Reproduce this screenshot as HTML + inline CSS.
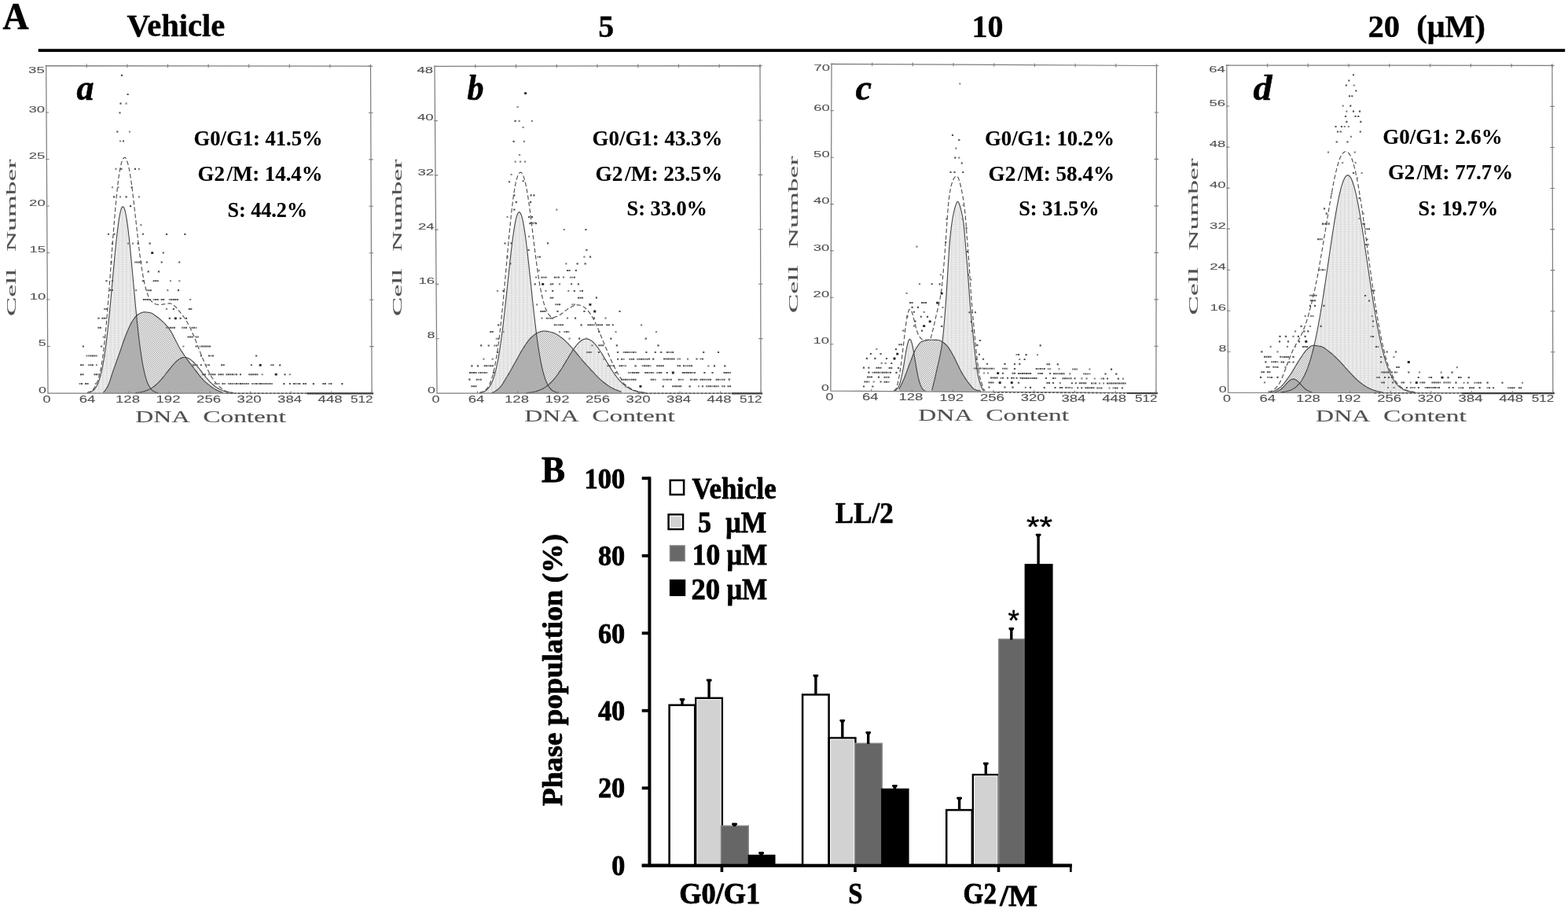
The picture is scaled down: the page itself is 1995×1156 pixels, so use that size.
<!DOCTYPE html>
<html lang="en"><head><meta charset="utf-8"><title>Cell cycle analysis</title>
<style>
html,body{margin:0;padding:0;background:#fff}
body{width:1995px;height:1156px;overflow:hidden}
svg{display:block}
text{font-family:'Liberation Serif','DejaVu Serif',serif;font-weight:bold}
text.sa{font-family:'Liberation Sans','DejaVu Sans',sans-serif;font-weight:normal}
text.n{font-weight:normal}
</style></head><body>
<svg width="1995" height="1156" viewBox="0 0 1995 1156">
<defs>
<pattern id="stip" width="5" height="3" patternUnits="userSpaceOnUse">
<rect width="5" height="3" fill="#ececec"/><rect width="1.6" height="3" fill="#dedede"/><rect width="5" height="1" fill="#e0e0e0" opacity=".6"/>
</pattern>
<pattern id="hat" width="2.6" height="2.6" patternUnits="userSpaceOnUse">
<rect width="2.6" height="2.6" fill="#fff"/>
<path d="M-0.65 0.65L0.65 -0.65M0 2.6L2.6 0M1.95 3.25L3.25 1.95" stroke="#6a6a6a" stroke-width="0.8"/>
</pattern>
<pattern id="xhat" width="1.9" height="1.9" patternUnits="userSpaceOnUse">
<rect width="1.9" height="1.9" fill="#f2f2f2"/>
<rect width="0.95" height="0.95" fill="#6c6c6c"/><rect x="0.95" y="0.95" width="0.95" height="0.95" fill="#6c6c6c"/>
</pattern>
</defs>
<rect width="1995" height="1156" fill="#fff"/>
<text x="3.6" y="37.3" font-size="47.5" textLength="33" lengthAdjust="spacingAndGlyphs" stroke="#000" stroke-width="0.7" stroke-linejoin="round">A</text>
<text x="161.6" y="46.3" font-size="40.5" textLength="124.6" lengthAdjust="spacingAndGlyphs" stroke="#000" stroke-width="0.4" stroke-linejoin="round">Vehicle</text>
<text x="761.2" y="46.8" font-size="40.5" textLength="20" lengthAdjust="spacingAndGlyphs" stroke="#000" stroke-width="0.4" stroke-linejoin="round">5</text>
<text x="1236.6" y="46.8" font-size="40.5" textLength="40" lengthAdjust="spacingAndGlyphs" stroke="#000" stroke-width="0.4" stroke-linejoin="round">10</text>
<text x="1740.6" y="46.8" font-size="40.5" stroke="#000" stroke-width="0.4" stroke-linejoin="round"><tspan x="1740.6" textLength="40.5" lengthAdjust="spacingAndGlyphs">20</tspan> <tspan x="1802.3" textLength="87.5" lengthAdjust="spacingAndGlyphs">(μM)</tspan></text>
<rect x="48.7" y="62.2" width="1942.5" height="3.8" fill="#000"/>
<g>
<clipPath id="csa"><path d="M131.2 499.2L132.2 498.3L133.2 497.2L134.2 495.9L135.2 494.4L136.2 492.7L137.2 491L138.2 488.8L139.2 486.2L140.2 483.3L141.2 480.2L142.2 477L143.2 473.9L144.2 471L145.2 468.1L146.2 465.4L147.2 462.6L148.2 459.8L149.2 457L150.2 454.2L151.2 451.4L152.2 448.6L153.2 445.7L154.2 442.8L155.2 439.9L156.2 436.9L157.2 434L158.2 431.2L159.2 428.5L160.2 426L161.2 423.5L162.2 421.1L163.2 418.7L164.2 416.4L165.2 414.2L166.2 412.2L167.2 410.4L168.2 408.8L169.2 407.3L170.2 405.8L171.2 404.4L172.2 403.1L173.2 402L174.2 401L175.2 400.3L176.2 399.6L177.2 399.1L178.2 398.5L179.2 398L180.2 397.6L181.2 397.2L182.2 397L183.2 396.9L184.2 396.9L185.2 397L186.2 397L187.2 397.1L188.2 397.2L189.2 397.4L190.2 397.5L191.2 397.7L192.2 398L193.2 398.4L194.2 398.9L195.2 399.6L196.2 400.3L197.2 401.1L198.2 401.8L199.2 402.5L200.2 403.3L201.2 404L202.2 404.8L203.2 405.6L204.2 406.5L205.2 407.4L206.2 408.3L207.2 409.2L208.2 410.2L209.2 411.2L210.2 412.2L211.2 413.3L212.2 414.4L213.2 415.6L214.2 416.8L215.2 418.1L216.2 419.5L217.2 421.1L218.2 422.8L219.2 424.6L220.2 426.5L221.2 428.4L222.2 430.4L223.2 432.4L224.2 434.4L225.2 436.3L226.2 438.3L227.2 440.2L228.2 442L229.2 443.7L230.2 445.4L231.2 446.9L232.2 448.4L233.2 449.9L234.2 451.4L235.2 452.8L236.2 454.3L237.2 455.7L238.2 457.1L239.2 458.4L240.2 459.8L241.2 461.1L242.2 462.4L243.2 463.7L244.2 465.1L245.2 466.4L246.2 467.6L247.2 469L248.2 470.3L249.2 471.6L250.2 472.9L251.2 474.2L252.2 475.5L253.2 476.8L254.2 478.1L255.2 479.3L256.2 480.5L257.2 481.6L258.2 482.7L259.2 483.8L260.2 484.8L261.2 485.7L262.2 486.6L263.2 487.4L264.2 488.3L265.2 489.1L266.2 489.8L267.2 490.6L268.2 491.3L269.2 492.1L270.2 492.7L271.2 493.4L272.2 494L273.2 494.6L274.2 495.2L275.2 495.8L276.2 496.3L277.2 496.8L278.2 497.3L279.2 497.7L280.2 498.1L281.2 498.5L282.2 498.9L283.2 499.3L284.2 499.6L284.2 500.3 L131.2 500.3Z"/></clipPath>
<path d="M111.2 499.7L112.2 499.5L113.2 499.2L114.2 498.9L115.2 498.6L116.2 498.1L117.2 497.5L118.2 496.8L119.2 496L120.2 495L121.2 493.7L122.2 492.3L123.2 490.5L124.2 488.5L125.2 486.1L126.2 483.3L127.2 480.1L128.2 476.5L129.2 472.3L130.2 467.7L131.2 462.4L132.2 456.6L133.2 450.1L134.2 443L135.2 435.4L136.2 427.1L137.2 418.2L138.2 408.8L139.2 398.9L140.2 388.7L141.2 378L142.2 367.2L143.2 356.2L144.2 345.2L145.2 334.4L146.2 323.8L147.2 313.6L148.2 304L149.2 295.2L150.2 287.1L151.2 280L152.2 274.1L153.2 269.3L154.2 265.7L155.2 263.5L156.2 262.7L157.2 263.3L158.2 265.2L159.2 268.5L160.2 273L161.2 278.8L162.2 285.6L163.2 293.5L164.2 302.2L165.2 311.7L166.2 321.7L167.2 332.2L168.2 343L169.2 354L170.2 365L171.2 375.9L172.2 386.5L173.2 396.9L174.2 406.9L175.2 416.4L176.2 425.4L177.2 433.8L178.2 441.6L179.2 448.7L180.2 455.3L181.2 461.3L182.2 466.6L183.2 471.4L184.2 475.7L185.2 479.5L186.2 482.7L187.2 485.6L188.2 488L189.2 490.2L190.2 491.9L191.2 493.5L192.2 494.7L193.2 495.8L194.2 496.7L195.2 497.4L196.2 498L197.2 498.5L198.2 498.9L199.2 499.2L200.2 499.4L201.2 499.6L201.2 500.3 L111.2 500.3Z" fill="url(#stip)"/>
<path d="M172.2 499.6L173.2 499.5L174.2 499.4L175.2 499.3L176.2 499.2L177.2 499L178.2 498.9L179.2 498.7L180.2 498.5L181.2 498.3L182.2 498L183.2 497.7L184.2 497.4L185.2 497.1L186.2 496.7L187.2 496.4L188.2 495.9L189.2 495.5L190.2 495L191.2 494.4L192.2 493.9L193.2 493.3L194.2 492.6L195.2 491.9L196.2 491.2L197.2 490.4L198.2 489.5L199.2 488.7L200.2 487.8L201.2 486.8L202.2 485.8L203.2 484.7L204.2 483.7L205.2 482.5L206.2 481.4L207.2 480.2L208.2 479L209.2 477.8L210.2 476.5L211.2 475.2L212.2 473.9L213.2 472.7L214.2 471.4L215.2 470.1L216.2 468.8L217.2 467.5L218.2 466.3L219.2 465.1L220.2 463.9L221.2 462.8L222.2 461.7L223.2 460.7L224.2 459.7L225.2 458.8L226.2 458L227.2 457.3L228.2 456.6L229.2 456L230.2 455.5L231.2 455.1L232.2 454.8L233.2 454.6L234.2 454.5L235.2 454.5L236.2 454.6L237.2 454.8L238.2 455.1L239.2 455.4L240.2 455.9L241.2 456.5L242.2 457.1L243.2 457.9L244.2 458.7L245.2 459.6L246.2 460.5L247.2 461.5L248.2 462.6L249.2 463.7L250.2 464.9L251.2 466.1L252.2 467.3L253.2 468.5L254.2 469.8L255.2 471.1L256.2 472.4L257.2 473.7L258.2 475L259.2 476.2L260.2 477.5L261.2 478.7L262.2 480L263.2 481.2L264.2 482.3L265.2 483.4L266.2 484.5L267.2 485.6L268.2 486.6L269.2 487.6L270.2 488.5L271.2 489.4L272.2 490.2L273.2 491L274.2 491.8L275.2 492.5L276.2 493.1L277.2 493.7L278.2 494.3L279.2 494.9L280.2 495.4L281.2 495.8L282.2 496.3L283.2 496.7L284.2 497L285.2 497.4L286.2 497.7L287.2 498L288.2 498.2L289.2 498.4L290.2 498.6L291.2 498.8L292.2 499L293.2 499.2L294.2 499.3L295.2 499.4L296.2 499.5L297.2 499.6L297.2 500.3 L172.2 500.3Z" fill="url(#stip)"/>
<path d="M131.2 499.2L132.2 498.3L133.2 497.2L134.2 495.9L135.2 494.4L136.2 492.7L137.2 491L138.2 488.8L139.2 486.2L140.2 483.3L141.2 480.2L142.2 477L143.2 473.9L144.2 471L145.2 468.1L146.2 465.4L147.2 462.6L148.2 459.8L149.2 457L150.2 454.2L151.2 451.4L152.2 448.6L153.2 445.7L154.2 442.8L155.2 439.9L156.2 436.9L157.2 434L158.2 431.2L159.2 428.5L160.2 426L161.2 423.5L162.2 421.1L163.2 418.7L164.2 416.4L165.2 414.2L166.2 412.2L167.2 410.4L168.2 408.8L169.2 407.3L170.2 405.8L171.2 404.4L172.2 403.1L173.2 402L174.2 401L175.2 400.3L176.2 399.6L177.2 399.1L178.2 398.5L179.2 398L180.2 397.6L181.2 397.2L182.2 397L183.2 396.9L184.2 396.9L185.2 397L186.2 397L187.2 397.1L188.2 397.2L189.2 397.4L190.2 397.5L191.2 397.7L192.2 398L193.2 398.4L194.2 398.9L195.2 399.6L196.2 400.3L197.2 401.1L198.2 401.8L199.2 402.5L200.2 403.3L201.2 404L202.2 404.8L203.2 405.6L204.2 406.5L205.2 407.4L206.2 408.3L207.2 409.2L208.2 410.2L209.2 411.2L210.2 412.2L211.2 413.3L212.2 414.4L213.2 415.6L214.2 416.8L215.2 418.1L216.2 419.5L217.2 421.1L218.2 422.8L219.2 424.6L220.2 426.5L221.2 428.4L222.2 430.4L223.2 432.4L224.2 434.4L225.2 436.3L226.2 438.3L227.2 440.2L228.2 442L229.2 443.7L230.2 445.4L231.2 446.9L232.2 448.4L233.2 449.9L234.2 451.4L235.2 452.8L236.2 454.3L237.2 455.7L238.2 457.1L239.2 458.4L240.2 459.8L241.2 461.1L242.2 462.4L243.2 463.7L244.2 465.1L245.2 466.4L246.2 467.6L247.2 469L248.2 470.3L249.2 471.6L250.2 472.9L251.2 474.2L252.2 475.5L253.2 476.8L254.2 478.1L255.2 479.3L256.2 480.5L257.2 481.6L258.2 482.7L259.2 483.8L260.2 484.8L261.2 485.7L262.2 486.6L263.2 487.4L264.2 488.3L265.2 489.1L266.2 489.8L267.2 490.6L268.2 491.3L269.2 492.1L270.2 492.7L271.2 493.4L272.2 494L273.2 494.6L274.2 495.2L275.2 495.8L276.2 496.3L277.2 496.8L278.2 497.3L279.2 497.7L280.2 498.1L281.2 498.5L282.2 498.9L283.2 499.3L284.2 499.6L284.2 500.3 L131.2 500.3Z" fill="url(#hat)"/>
<g clip-path="url(#csa)"><path d="M111.2 499.7L112.2 499.5L113.2 499.2L114.2 498.9L115.2 498.6L116.2 498.1L117.2 497.5L118.2 496.8L119.2 496L120.2 495L121.2 493.7L122.2 492.3L123.2 490.5L124.2 488.5L125.2 486.1L126.2 483.3L127.2 480.1L128.2 476.5L129.2 472.3L130.2 467.7L131.2 462.4L132.2 456.6L133.2 450.1L134.2 443L135.2 435.4L136.2 427.1L137.2 418.2L138.2 408.8L139.2 398.9L140.2 388.7L141.2 378L142.2 367.2L143.2 356.2L144.2 345.2L145.2 334.4L146.2 323.8L147.2 313.6L148.2 304L149.2 295.2L150.2 287.1L151.2 280L152.2 274.1L153.2 269.3L154.2 265.7L155.2 263.5L156.2 262.7L157.2 263.3L158.2 265.2L159.2 268.5L160.2 273L161.2 278.8L162.2 285.6L163.2 293.5L164.2 302.2L165.2 311.7L166.2 321.7L167.2 332.2L168.2 343L169.2 354L170.2 365L171.2 375.9L172.2 386.5L173.2 396.9L174.2 406.9L175.2 416.4L176.2 425.4L177.2 433.8L178.2 441.6L179.2 448.7L180.2 455.3L181.2 461.3L182.2 466.6L183.2 471.4L184.2 475.7L185.2 479.5L186.2 482.7L187.2 485.6L188.2 488L189.2 490.2L190.2 491.9L191.2 493.5L192.2 494.7L193.2 495.8L194.2 496.7L195.2 497.4L196.2 498L197.2 498.5L198.2 498.9L199.2 499.2L200.2 499.4L201.2 499.6L201.2 500.3 L111.2 500.3Z" fill="url(#xhat)"/><path d="M172.2 499.6L173.2 499.5L174.2 499.4L175.2 499.3L176.2 499.2L177.2 499L178.2 498.9L179.2 498.7L180.2 498.5L181.2 498.3L182.2 498L183.2 497.7L184.2 497.4L185.2 497.1L186.2 496.7L187.2 496.4L188.2 495.9L189.2 495.5L190.2 495L191.2 494.4L192.2 493.9L193.2 493.3L194.2 492.6L195.2 491.9L196.2 491.2L197.2 490.4L198.2 489.5L199.2 488.7L200.2 487.8L201.2 486.8L202.2 485.8L203.2 484.7L204.2 483.7L205.2 482.5L206.2 481.4L207.2 480.2L208.2 479L209.2 477.8L210.2 476.5L211.2 475.2L212.2 473.9L213.2 472.7L214.2 471.4L215.2 470.1L216.2 468.8L217.2 467.5L218.2 466.3L219.2 465.1L220.2 463.9L221.2 462.8L222.2 461.7L223.2 460.7L224.2 459.7L225.2 458.8L226.2 458L227.2 457.3L228.2 456.6L229.2 456L230.2 455.5L231.2 455.1L232.2 454.8L233.2 454.6L234.2 454.5L235.2 454.5L236.2 454.6L237.2 454.8L238.2 455.1L239.2 455.4L240.2 455.9L241.2 456.5L242.2 457.1L243.2 457.9L244.2 458.7L245.2 459.6L246.2 460.5L247.2 461.5L248.2 462.6L249.2 463.7L250.2 464.9L251.2 466.1L252.2 467.3L253.2 468.5L254.2 469.8L255.2 471.1L256.2 472.4L257.2 473.7L258.2 475L259.2 476.2L260.2 477.5L261.2 478.7L262.2 480L263.2 481.2L264.2 482.3L265.2 483.4L266.2 484.5L267.2 485.6L268.2 486.6L269.2 487.6L270.2 488.5L271.2 489.4L272.2 490.2L273.2 491L274.2 491.8L275.2 492.5L276.2 493.1L277.2 493.7L278.2 494.3L279.2 494.9L280.2 495.4L281.2 495.8L282.2 496.3L283.2 496.7L284.2 497L285.2 497.4L286.2 497.7L287.2 498L288.2 498.2L289.2 498.4L290.2 498.6L291.2 498.8L292.2 499L293.2 499.2L294.2 499.3L295.2 499.4L296.2 499.5L297.2 499.6L297.2 500.3 L172.2 500.3Z" fill="url(#xhat)"/></g>
<path d="M111.2 499.7L112.2 499.5L113.2 499.2L114.2 498.9L115.2 498.6L116.2 498.1L117.2 497.5L118.2 496.8L119.2 496L120.2 495L121.2 493.7L122.2 492.3L123.2 490.5L124.2 488.5L125.2 486.1L126.2 483.3L127.2 480.1L128.2 476.5L129.2 472.3L130.2 467.7L131.2 462.4L132.2 456.6L133.2 450.1L134.2 443L135.2 435.4L136.2 427.1L137.2 418.2L138.2 408.8L139.2 398.9L140.2 388.7L141.2 378L142.2 367.2L143.2 356.2L144.2 345.2L145.2 334.4L146.2 323.8L147.2 313.6L148.2 304L149.2 295.2L150.2 287.1L151.2 280L152.2 274.1L153.2 269.3L154.2 265.7L155.2 263.5L156.2 262.7L157.2 263.3L158.2 265.2L159.2 268.5L160.2 273L161.2 278.8L162.2 285.6L163.2 293.5L164.2 302.2L165.2 311.7L166.2 321.7L167.2 332.2L168.2 343L169.2 354L170.2 365L171.2 375.9L172.2 386.5L173.2 396.9L174.2 406.9L175.2 416.4L176.2 425.4L177.2 433.8L178.2 441.6L179.2 448.7L180.2 455.3L181.2 461.3L182.2 466.6L183.2 471.4L184.2 475.7L185.2 479.5L186.2 482.7L187.2 485.6L188.2 488L189.2 490.2L190.2 491.9L191.2 493.5L192.2 494.7L193.2 495.8L194.2 496.7L195.2 497.4L196.2 498L197.2 498.5L198.2 498.9L199.2 499.2L200.2 499.4L201.2 499.6" fill="none" stroke="#444" stroke-width="1.1"/>
<path d="M172.2 499.6L173.2 499.5L174.2 499.4L175.2 499.3L176.2 499.2L177.2 499L178.2 498.9L179.2 498.7L180.2 498.5L181.2 498.3L182.2 498L183.2 497.7L184.2 497.4L185.2 497.1L186.2 496.7L187.2 496.4L188.2 495.9L189.2 495.5L190.2 495L191.2 494.4L192.2 493.9L193.2 493.3L194.2 492.6L195.2 491.9L196.2 491.2L197.2 490.4L198.2 489.5L199.2 488.7L200.2 487.8L201.2 486.8L202.2 485.8L203.2 484.7L204.2 483.7L205.2 482.5L206.2 481.4L207.2 480.2L208.2 479L209.2 477.8L210.2 476.5L211.2 475.2L212.2 473.9L213.2 472.7L214.2 471.4L215.2 470.1L216.2 468.8L217.2 467.5L218.2 466.3L219.2 465.1L220.2 463.9L221.2 462.8L222.2 461.7L223.2 460.7L224.2 459.7L225.2 458.8L226.2 458L227.2 457.3L228.2 456.6L229.2 456L230.2 455.5L231.2 455.1L232.2 454.8L233.2 454.6L234.2 454.5L235.2 454.5L236.2 454.6L237.2 454.8L238.2 455.1L239.2 455.4L240.2 455.9L241.2 456.5L242.2 457.1L243.2 457.9L244.2 458.7L245.2 459.6L246.2 460.5L247.2 461.5L248.2 462.6L249.2 463.7L250.2 464.9L251.2 466.1L252.2 467.3L253.2 468.5L254.2 469.8L255.2 471.1L256.2 472.4L257.2 473.7L258.2 475L259.2 476.2L260.2 477.5L261.2 478.7L262.2 480L263.2 481.2L264.2 482.3L265.2 483.4L266.2 484.5L267.2 485.6L268.2 486.6L269.2 487.6L270.2 488.5L271.2 489.4L272.2 490.2L273.2 491L274.2 491.8L275.2 492.5L276.2 493.1L277.2 493.7L278.2 494.3L279.2 494.9L280.2 495.4L281.2 495.8L282.2 496.3L283.2 496.7L284.2 497L285.2 497.4L286.2 497.7L287.2 498L288.2 498.2L289.2 498.4L290.2 498.6L291.2 498.8L292.2 499L293.2 499.2L294.2 499.3L295.2 499.4L296.2 499.5L297.2 499.6" fill="none" stroke="#444" stroke-width="1.1"/>
<path d="M131.2 499.2L132.2 498.3L133.2 497.2L134.2 495.9L135.2 494.4L136.2 492.7L137.2 491L138.2 488.8L139.2 486.2L140.2 483.3L141.2 480.2L142.2 477L143.2 473.9L144.2 471L145.2 468.1L146.2 465.4L147.2 462.6L148.2 459.8L149.2 457L150.2 454.2L151.2 451.4L152.2 448.6L153.2 445.7L154.2 442.8L155.2 439.9L156.2 436.9L157.2 434L158.2 431.2L159.2 428.5L160.2 426L161.2 423.5L162.2 421.1L163.2 418.7L164.2 416.4L165.2 414.2L166.2 412.2L167.2 410.4L168.2 408.8L169.2 407.3L170.2 405.8L171.2 404.4L172.2 403.1L173.2 402L174.2 401L175.2 400.3L176.2 399.6L177.2 399.1L178.2 398.5L179.2 398L180.2 397.6L181.2 397.2L182.2 397L183.2 396.9L184.2 396.9L185.2 397L186.2 397L187.2 397.1L188.2 397.2L189.2 397.4L190.2 397.5L191.2 397.7L192.2 398L193.2 398.4L194.2 398.9L195.2 399.6L196.2 400.3L197.2 401.1L198.2 401.8L199.2 402.5L200.2 403.3L201.2 404L202.2 404.8L203.2 405.6L204.2 406.5L205.2 407.4L206.2 408.3L207.2 409.2L208.2 410.2L209.2 411.2L210.2 412.2L211.2 413.3L212.2 414.4L213.2 415.6L214.2 416.8L215.2 418.1L216.2 419.5L217.2 421.1L218.2 422.8L219.2 424.6L220.2 426.5L221.2 428.4L222.2 430.4L223.2 432.4L224.2 434.4L225.2 436.3L226.2 438.3L227.2 440.2L228.2 442L229.2 443.7L230.2 445.4L231.2 446.9L232.2 448.4L233.2 449.9L234.2 451.4L235.2 452.8L236.2 454.3L237.2 455.7L238.2 457.1L239.2 458.4L240.2 459.8L241.2 461.1L242.2 462.4L243.2 463.7L244.2 465.1L245.2 466.4L246.2 467.6L247.2 469L248.2 470.3L249.2 471.6L250.2 472.9L251.2 474.2L252.2 475.5L253.2 476.8L254.2 478.1L255.2 479.3L256.2 480.5L257.2 481.6L258.2 482.7L259.2 483.8L260.2 484.8L261.2 485.7L262.2 486.6L263.2 487.4L264.2 488.3L265.2 489.1L266.2 489.8L267.2 490.6L268.2 491.3L269.2 492.1L270.2 492.7L271.2 493.4L272.2 494L273.2 494.6L274.2 495.2L275.2 495.8L276.2 496.3L277.2 496.8L278.2 497.3L279.2 497.7L280.2 498.1L281.2 498.5L282.2 498.9L283.2 499.3L284.2 499.6" fill="none" stroke="#444" stroke-width="1.1"/>
<path d="M110.6 499.5L111.6 499.2L112.6 498.9L113.6 498.6L114.6 498.1L115.6 497.5L116.6 496.8L117.6 496L118.6 495L119.6 493.7L120.6 492.3L121.6 490.5L122.6 488.5L123.6 486.1L124.6 483.3L125.6 480.1L126.6 476.5L127.6 472.3L128.6 467.7L129.6 461.3L130.6 454.6L131.6 447L132.6 438.6L133.6 429.4L134.6 419.5L135.6 408.9L136.6 397.3L137.6 384.8L138.6 371.7L139.6 358.3L140.6 344.6L141.6 330.8L142.6 317.1L143.6 303.8L144.7 290.7L145.7 278L146.7 266L147.8 254.6L148.8 244L149.9 234.4L151 225.8L152.1 218.3L153.3 212.1L154.5 207.2L155.7 203.6L156.9 201.4L158.2 200.3L159.5 200.6L160.7 202.4L161.9 205.5L163.1 209.6L164.3 214.8L165.4 221L166.5 227.9L167.6 235.5L168.6 243.8L169.7 252.6L170.7 261.6L171.7 270.6L172.8 279.7L173.8 288.7L174.8 297.7L175.8 306.5L176.8 315L177.8 323.1L178.8 330.6L179.8 337.6L180.8 344L181.8 349.8L182.8 355.1L183.8 359.9L184.8 364.2L185.8 368L186.8 371.4L187.8 374.3L188.8 376.8L189.8 378.9L190.8 380.6L191.8 382L192.8 383.1L193.8 384L194.8 384.8L195.8 385.5L196.8 386.1L197.8 386.6L198.8 387L199.8 387.2L200.8 387.4L201.8 387.4L202.8 387.4L203.8 387.4L204.8 387.3L205.8 387.2L206.8 387.1L207.8 386.9L208.8 386.7L209.8 386.6L210.8 386.4L211.8 386.2L212.8 386.1L213.8 386L214.8 385.9L215.8 385.8L216.8 385.9L217.8 386.2L218.8 386.6L219.8 387.2L220.8 387.9L221.8 388.7L222.8 389.6L223.8 390.6L224.8 391.7L225.8 392.9L226.8 394.1L227.8 395.3L228.8 396.6L229.8 397.9L230.8 399.1L231.8 400.4L232.8 401.7L233.8 403L234.8 404.5L235.8 406L236.8 407.6L237.8 409.3L238.8 411L239.8 412.9L240.8 414.8L241.8 416.8L242.8 418.8L243.8 421L244.8 423.2L245.8 425.5L246.8 427.8L247.8 430.2L248.8 432.7L249.8 435.3L250.8 437.9L251.8 440.5L252.8 443L253.8 445.5L254.8 448.1L255.8 450.6L256.8 453.1L257.8 455.6L258.8 458L259.8 460.4L260.8 462.7L261.8 465L262.8 467.1L263.8 469.2L264.8 471.3L265.8 473.3L266.8 475.2L267.8 476.9L268.8 478.6L269.8 480.2L270.8 481.7L271.8 483.2L272.8 484.5L273.8 485.9L274.8 487.1L275.8 488.3L276.8 489.4L277.8 490.4L278.8 491.4L279.8 492.3L280.8 493.2L281.8 493.9L282.8 494.6L283.8 495.3L284.8 495.9L285.8 496.4L286.8 497.4L287.8 497.7L288.8 498L289.8 498.2L290.8 498.4L291.8 498.6L292.8 498.8L293.8 499L294.8 499.2L295.8 499.3L296.8 499.4" fill="none" stroke="#505050" stroke-width="1.15" stroke-dasharray="5.5 3"/>
<path d="M161.9 308.6h2.2v2.1h-2.2zM167.9 308.6h2.2v2.1h-2.2zM170.8 332.5h2.1v2h-2.1zM215.9 356.2h2.2v2.1h-2.2zM227.2 356.2h2.2v2.1h-2.2zM172 368.1h2.2v2.1h-2.2zM185.8 368.2h2.1v2h-2.1zM212.2 368.1h2.2v2.1h-2.2zM194.6 380.1h2.1v2h-2.1zM214.8 380.1h2.1v2h-2.1zM241 380h2.2v2.1h-2.2zM131.9 391.9h2.1v2h-2.1zM210.9 391.9h2.2v2.1h-2.2zM134.3 403.8h2.1v2h-2.1zM210.9 415.7h2.1v2h-2.1zM230.9 415.8h2.1v2h-2.1zM248.5 415.8h2.1v2h-2.1zM130.6 427.6h2.2v2.1h-2.2zM251 427.6h2.1v2h-2.1zM232.2 439.5h2.2v2.1h-2.2zM253.5 439.5h2.1v2h-2.1zM109.4 451.4h2.1v2h-2.1zM111.9 451.4h2.1v2h-2.1zM121.9 451.4h2.1v2h-2.1zM131.9 451.4h2.2v2.1h-2.2zM267.4 451.4h2.1v2h-2.1zM111.9 463.3h2.1v2h-2.1zM121.9 463.3h2.1v2h-2.1zM249.8 463.3h2.1v2h-2.1zM262.3 463.3h2.1v2h-2.1zM343.9 463.3h2.1v2h-2.1zM124.4 475.2h2.1v2h-2.1zM126.9 475.2h2.1v2h-2.1zM264.8 475.2h2.1v2h-2.1zM297.4 475.2h2.1v2h-2.1zM332.6 475.2h2.2v2.1h-2.2zM367.7 475.2h2.2v2.1h-2.2zM100.5 487.1h2.1v2h-2.1zM120.7 487.1h2.1v2h-2.1zM272.4 487.1h2.1v2h-2.1zM274.9 487.1h2.1v2h-2.1zM277.4 487.1h2.1v2h-2.1zM284.9 487.1h2.1v2h-2.1zM289.9 487.1h2.1v2h-2.1zM294.9 487.1h2.1v2h-2.1zM297.4 487.1h2.1v2h-2.1zM302.4 487.1h2.1v2h-2.1zM309.9 487.1h2.1v2h-2.1zM314.9 487.1h2.1v2h-2.1zM319.9 487.1h2.1v2h-2.1zM322.4 487.1h2.1v2h-2.1zM327.4 487.1h2.1v2h-2.1zM334.9 487.1h2.1v2h-2.1zM339.9 487.1h2.1v2h-2.1zM344.9 487.1h2.1v2h-2.1zM375.2 487.1h2.1v2h-2.1zM377.8 487.1h2.1v2h-2.1zM417.8 487.1h2.1v2h-2.1zM159.5 130.6h2.2v2.1h-2.2zM163.9 166.5h2.2v2.1h-2.2zM151.9 178.5h2.2v2.1h-2.2zM146.4 213.8h2.2v2.1h-2.2zM175.8 213.8h2.2v2.1h-2.2zM141.9 237.2h2.2v2.1h-2.2zM149.4 237.2h2.2v2.1h-2.2zM151.9 249.3h2.2v2.1h-2.2zM175.8 249.3h2.2v2.1h-2.2zM178.3 285.1h2.2v2.1h-2.2z" fill="#858585"/>
<path d="M136.9 296.7h2.2v2.1h-2.2zM144.4 296.7h2.2v2.1h-2.2zM180.8 296.7h2.2v2.1h-2.2zM210.9 296.8h2.2v2.1h-2.2zM234.2 296.8h2.2v2.1h-2.2zM141.9 308.6h2.2v2.1h-2.2zM174.5 308.6h2.2v2.1h-2.2zM189.6 308.6h2.2v2.1h-2.2zM206.6 320.5h2.2v2.1h-2.2zM140.6 332.4h2.2v2.1h-2.2zM173.3 332.5h2.1v2h-2.1zM175.8 332.5h2.1v2h-2.1zM178.3 332.5h2.1v2h-2.1zM185.8 332.4h2.2v2.1h-2.2zM204.6 332.4h2.2v2.1h-2.2zM227.2 332.5h2.1v2h-2.1zM187.6 344.3h2.2v2.1h-2.2zM200.9 344.3h2.2v2.1h-2.2zM134.4 356.2h2.2v2.1h-2.2zM141.9 356.2h2.2v2.1h-2.2zM180.8 356.2h2.2v2.1h-2.2zM194.6 356.3h2.1v2h-2.1zM197.1 356.3h2.1v2h-2.1zM199.6 356.3h2.1v2h-2.1zM139.4 368.1h2.1v2h-2.1zM141.9 368.1h2.1v2h-2.1zM188.3 368.2h2.1v2h-2.1zM190.8 368.2h2.1v2h-2.1zM225.9 368.1h2.2v2.1h-2.2zM181.9 380.1h2.1v2h-2.1zM184.4 380.1h2.1v2h-2.1zM186.9 380.1h2.1v2h-2.1zM189.4 380.1h2.1v2h-2.1zM197.1 380.1h2.1v2h-2.1zM199.6 380.1h2.1v2h-2.1zM204.6 380.1h2.1v2h-2.1zM207.1 380.1h2.1v2h-2.1zM217.2 380.1h2.1v2h-2.1zM219.8 380.1h2.1v2h-2.1zM222.2 380.1h2.1v2h-2.1zM224.8 380.1h2.1v2h-2.1zM134.4 391.9h2.1v2h-2.1zM219.7 391.9h2.2v2.1h-2.2zM239.8 392h2.1v2h-2.1zM242.2 392h2.1v2h-2.1zM124.4 403.8h2.1v2h-2.1zM129.3 403.8h2.1v2h-2.1zM131.8 403.8h2.1v2h-2.1zM214.7 403.8h2.2v2.1h-2.2zM228.5 403.8h2.2v2.1h-2.2zM235.9 403.8h2.2v2.1h-2.2zM124.4 415.7h2.1v2h-2.1zM126.9 415.7h2.1v2h-2.1zM213.4 415.7h2.1v2h-2.1zM215.9 415.7h2.1v2h-2.1zM218.4 415.7h2.1v2h-2.1zM220.9 415.7h2.1v2h-2.1zM233.4 415.8h2.1v2h-2.1zM235.9 415.8h2.1v2h-2.1zM243.5 415.8h2.1v2h-2.1zM246 415.8h2.1v2h-2.1zM238.5 427.6h2.1v2h-2.1zM241 427.6h2.1v2h-2.1zM243.5 427.6h2.1v2h-2.1zM248.5 427.6h2.1v2h-2.1zM104.8 439.5h2.2v2.1h-2.2zM128.1 439.5h2.1v2h-2.1zM248.5 439.5h2.1v2h-2.1zM256.1 439.5h2.1v2h-2.1zM258.6 439.5h2.1v2h-2.1zM261.1 439.5h2.1v2h-2.1zM263.6 439.5h2.1v2h-2.1zM266.1 439.5h2.1v2h-2.1zM114.4 451.4h2.1v2h-2.1zM116.9 451.4h2.1v2h-2.1zM119.4 451.4h2.1v2h-2.1zM254.8 451.4h2.2v2.1h-2.2zM264.9 451.4h2.1v2h-2.1zM269.9 451.4h2.1v2h-2.1zM325 451.4h2.2v2.1h-2.2zM101.9 463.3h2.1v2h-2.1zM104.4 463.3h2.1v2h-2.1zM114.4 463.3h2.1v2h-2.1zM116.9 463.3h2.1v2h-2.1zM244.8 463.3h2.1v2h-2.1zM247.3 463.3h2.1v2h-2.1zM254.8 463.3h2.1v2h-2.1zM264.8 463.3h2.1v2h-2.1zM281.1 463.3h2.1v2h-2.1zM283.6 463.3h2.1v2h-2.1zM318.8 463.3h2.1v2h-2.1zM346.4 463.3h2.1v2h-2.1zM355.1 463.3h2.2v2.1h-2.2zM101.9 475.2h2.1v2h-2.1zM104.4 475.2h2.1v2h-2.1zM119.4 475.2h2.1v2h-2.1zM121.9 475.2h2.1v2h-2.1zM257.3 475.2h2.1v2h-2.1zM259.8 475.2h2.1v2h-2.1zM267.3 475.2h2.1v2h-2.1zM269.8 475.2h2.1v2h-2.1zM272.3 475.2h2.1v2h-2.1zM277.4 475.2h2.1v2h-2.1zM279.9 475.2h2.1v2h-2.1zM282.4 475.2h2.1v2h-2.1zM287.4 475.2h2.1v2h-2.1zM289.9 475.2h2.1v2h-2.1zM292.4 475.2h2.1v2h-2.1zM294.9 475.2h2.1v2h-2.1zM299.9 475.2h2.1v2h-2.1zM304.9 475.2h2.1v2h-2.1zM316.3 475.2h2.1v2h-2.1zM318.8 475.2h2.1v2h-2.1zM321.3 475.2h2.1v2h-2.1zM323.8 475.2h2.1v2h-2.1zM326.3 475.2h2.1v2h-2.1zM361.4 475.2h2.2v2.1h-2.2zM103 487.1h2.1v2h-2.1zM108 487.1h2.1v2h-2.1zM110.5 487.1h2.1v2h-2.1zM282.4 487.1h2.1v2h-2.1zM292.4 487.1h2.1v2h-2.1zM299.9 487.1h2.1v2h-2.1zM304.9 487.1h2.1v2h-2.1zM307.4 487.1h2.1v2h-2.1zM312.4 487.1h2.1v2h-2.1zM324.9 487.1h2.1v2h-2.1zM329.9 487.1h2.1v2h-2.1zM332.4 487.1h2.1v2h-2.1zM337.4 487.1h2.1v2h-2.1zM342.4 487.1h2.1v2h-2.1zM360.2 487.1h2.2v2.1h-2.2zM367.8 487.1h2.1v2h-2.1zM372.8 487.1h2.1v2h-2.1zM380.2 487.1h2.1v2h-2.1zM385.2 487.1h2.1v2h-2.1zM387.8 487.1h2.1v2h-2.1zM397.8 487.1h2.2v2.1h-2.2zM410.3 487.1h2.1v2h-2.1zM412.8 487.1h2.1v2h-2.1zM420.3 487.1h2.1v2h-2.1zM434.2 487.1h2.2v2.1h-2.2zM153.9 94.8h2.2v2.1h-2.2zM161.5 118.9h2.2v2.1h-2.2zM152.4 130.6h2.2v2.1h-2.2zM151.4 142.4h2.2v2.1h-2.2zM148.2 166.5h2.2v2.1h-2.2zM155.9 178.5h2.2v2.1h-2.2zM153.2 213.8h2.2v2.1h-2.2zM170.8 213.8h2.2v2.1h-2.2zM166.5 237.2h2.2v2.1h-2.2zM143.9 249.3h2.2v2.1h-2.2zM159.5 249.3h2.2v2.1h-2.2zM164.9 261.1h2.2v2.1h-2.2z" fill="#555"/>
<path d="M192.2 320.2h3v2.8h-3zM221.8 403.5h3v2.8h-3zM329.7 462.9h3v2.8h-3zM349.7 474.8h3v2.8h-3z" fill="#262626"/>
<path d="M58.7 83.5L471.5 84.1L473.1 500L61 500Z" fill="none" stroke="#7e7e7e" stroke-width="1.25"/>
<path d="M390.7 500.4L475.1 500.4" stroke="#3f3f3f" stroke-width="2.2"/>
<path d="M287.7 500.3L390.7 500.3" stroke="#5a5a5a" stroke-width="1.6" stroke-dasharray="3 2"/>
<path d="M110.3 81.3v4.6M112.5 497.4v2.6M161.9 81.4v4.6M164 497.4v2.6M213.5 81.4v4.6M215.5 497.4v2.6M265.1 81.5v4.6M267.1 497.4v2.6M316.7 81.6v4.6M318.6 497.4v2.6M368.3 81.6v4.6M370.1 497.4v2.6M419.9 81.7v4.6M421.6 497.4v2.6M471.5 81.8v4.6M473.1 497.4v2.6M59.5 440.5h4.4M470.2 440.6h5.4M59.1 381h4.4M469.9 381.2h5.4M58.8 321.5h4.4M469.7 321.8h5.4M58.5 262h4.4M469.5 262.3h5.4M58.2 202.5h4.4M469.3 202.9h5.4M57.8 143h4.4M469 143.5h5.4M57.5 83.5h4.4M468.8 84.1h5.4" stroke="#7e7e7e" stroke-width="1.1" fill="none"/>
<text x="54.5" y="511.5" font-size="13" class="sa" fill="#505050" textLength="10" lengthAdjust="spacingAndGlyphs" stroke="#505050" stroke-width="0.1" stroke-linejoin="round">0</text>
<text x="100.8" y="511.5" font-size="13" class="sa" fill="#505050" textLength="20.5" lengthAdjust="spacingAndGlyphs" stroke="#505050" stroke-width="0.1" stroke-linejoin="round">64</text>
<text x="147" y="511.5" font-size="13" class="sa" fill="#505050" textLength="31" lengthAdjust="spacingAndGlyphs" stroke="#505050" stroke-width="0.1" stroke-linejoin="round">128</text>
<text x="198.5" y="511.5" font-size="13" class="sa" fill="#505050" textLength="31" lengthAdjust="spacingAndGlyphs" stroke="#505050" stroke-width="0.1" stroke-linejoin="round">192</text>
<text x="250.1" y="511.5" font-size="13" class="sa" fill="#505050" textLength="31" lengthAdjust="spacingAndGlyphs" stroke="#505050" stroke-width="0.1" stroke-linejoin="round">256</text>
<text x="301.6" y="511.5" font-size="13" class="sa" fill="#505050" textLength="31" lengthAdjust="spacingAndGlyphs" stroke="#505050" stroke-width="0.1" stroke-linejoin="round">320</text>
<text x="353.1" y="511.5" font-size="13" class="sa" fill="#505050" textLength="31" lengthAdjust="spacingAndGlyphs" stroke="#505050" stroke-width="0.1" stroke-linejoin="round">384</text>
<text x="404.6" y="511.5" font-size="13" class="sa" fill="#505050" textLength="31" lengthAdjust="spacingAndGlyphs" stroke="#505050" stroke-width="0.1" stroke-linejoin="round">448</text>
<text x="446.1" y="511.5" font-size="13" class="sa" fill="#505050" textLength="28.5" lengthAdjust="spacingAndGlyphs" stroke="#505050" stroke-width="0.1" stroke-linejoin="round">512</text>
<text x="49.1" y="499.7" font-size="11.3" class="sa" fill="#505050" textLength="9.9" lengthAdjust="spacingAndGlyphs" stroke="#505050" stroke-width="0.1" stroke-linejoin="round">0</text>
<text x="48.8" y="440.2" font-size="11.3" class="sa" fill="#505050" textLength="9.9" lengthAdjust="spacingAndGlyphs" stroke="#505050" stroke-width="0.1" stroke-linejoin="round">5</text>
<text x="37.7" y="380.7" font-size="11.3" class="sa" fill="#505050" textLength="20.6" lengthAdjust="spacingAndGlyphs" stroke="#505050" stroke-width="0.1" stroke-linejoin="round">10</text>
<text x="37.4" y="321.2" font-size="11.3" class="sa" fill="#505050" textLength="20.6" lengthAdjust="spacingAndGlyphs" stroke="#505050" stroke-width="0.1" stroke-linejoin="round">15</text>
<text x="37.1" y="261.7" font-size="11.3" class="sa" fill="#505050" textLength="20.6" lengthAdjust="spacingAndGlyphs" stroke="#505050" stroke-width="0.1" stroke-linejoin="round">20</text>
<text x="36.8" y="202.2" font-size="11.3" class="sa" fill="#505050" textLength="20.6" lengthAdjust="spacingAndGlyphs" stroke="#505050" stroke-width="0.1" stroke-linejoin="round">25</text>
<text x="36.4" y="142.7" font-size="11.3" class="sa" fill="#505050" textLength="20.6" lengthAdjust="spacingAndGlyphs" stroke="#505050" stroke-width="0.1" stroke-linejoin="round">30</text>
<text x="36.1" y="92.5" font-size="11.3" class="sa" fill="#505050" textLength="20.6" lengthAdjust="spacingAndGlyphs" stroke="#505050" stroke-width="0.1" stroke-linejoin="round">35</text>
<text x="19.7" y="402" font-size="17.5" class="n" fill="#505050" transform="rotate(-90 19.7 402)" stroke="#505050" stroke-width="0.12" stroke-linejoin="round"><tspan x="19.7" textLength="60.5" lengthAdjust="spacingAndGlyphs">Cell</tspan> <tspan x="102" textLength="117" lengthAdjust="spacingAndGlyphs">Number</tspan></text>
<text x="172.3" y="537" font-size="22" class="n" fill="#505050" stroke="#505050" stroke-width="0.12" stroke-linejoin="round"><tspan x="172.3" textLength="67.4" lengthAdjust="spacingAndGlyphs">DNA</tspan> <tspan x="258.3" textLength="105.5" lengthAdjust="spacingAndGlyphs">Content</tspan></text>
</g>
<text x="97.5" y="126.5" font-size="47" font-style="italic" textLength="22" lengthAdjust="spacingAndGlyphs" stroke="#000" stroke-width="0.6" stroke-linejoin="round">a</text>
<text x="246.6" y="185.1" font-size="26.8" textLength="164" lengthAdjust="spacingAndGlyphs" stroke="#000" stroke-width="0.12" stroke-linejoin="round">G0/G1: 41.5%</text>
<text x="251.6" y="229.8" font-size="26.8" textLength="159" lengthAdjust="spacingAndGlyphs" stroke="#000" stroke-width="0.12" stroke-linejoin="round">G2<tspan dx="2.6">/M: 14.4%</tspan></text>
<text x="289.4" y="275.5" font-size="26.8" textLength="101.7" lengthAdjust="spacingAndGlyphs" stroke="#000" stroke-width="0.12" stroke-linejoin="round">S: 44.2%</text>
<g>
<clipPath id="csb"><path d="M625.5 499.5L626.5 499.2L627.5 498.9L628.5 498.4L629.5 497.9L630.5 497.2L631.5 496.5L632.5 495.7L633.5 494.9L634.5 494.1L635.5 493.2L636.5 492.2L637.5 491L638.5 489.7L639.5 488.2L640.5 486.6L641.5 484.9L642.5 483.3L643.5 481.5L644.5 479.8L645.5 478.2L646.5 476.6L647.5 474.9L648.5 473.2L649.5 471.4L650.5 469.7L651.5 467.9L652.5 466.1L653.5 464.3L654.5 462.5L655.5 460.8L656.5 459L657.5 457.2L658.5 455.4L659.5 453.5L660.5 451.7L661.5 449.9L662.5 448.1L663.5 446.4L664.5 444.7L665.5 443.2L666.5 441.6L667.5 440.1L668.5 438.5L669.5 437L670.5 435.6L671.5 434.2L672.5 432.8L673.5 431.6L674.5 430.5L675.5 429.5L676.5 428.6L677.5 427.7L678.5 426.9L679.5 426.1L680.5 425.3L681.5 424.6L682.5 424L683.5 423.5L684.5 423L685.5 422.6L686.5 422.2L687.5 421.9L688.5 421.6L689.5 421.3L690.5 421.1L691.5 421L692.5 421L693.5 421.1L694.5 421.1L695.5 421.3L696.5 421.4L697.5 421.6L698.5 421.8L699.5 422L700.5 422.3L701.5 422.5L702.5 422.8L703.5 423.1L704.5 423.4L705.5 423.8L706.5 424.3L707.5 424.8L708.5 425.4L709.5 426L710.5 426.7L711.5 427.3L712.5 428.1L713.5 428.8L714.5 429.5L715.5 430.3L716.5 431L717.5 431.9L718.5 432.7L719.5 433.7L720.5 434.6L721.5 435.6L722.5 436.7L723.5 437.7L724.5 438.8L725.5 439.9L726.5 441L727.5 442.1L728.5 443.2L729.5 444.3L730.5 445.5L731.5 446.7L732.5 447.9L733.5 449.1L734.5 450.3L735.5 451.6L736.5 452.8L737.5 454L738.5 455.3L739.5 456.5L740.5 457.6L741.5 458.8L742.5 459.9L743.5 461.1L744.5 462.2L745.5 463.3L746.5 464.4L747.5 465.5L748.5 466.6L749.5 467.7L750.5 468.8L751.5 469.9L752.5 471L753.5 472L754.5 473.1L755.5 474.1L756.5 475.2L757.5 476.3L758.5 477.3L759.5 478.4L760.5 479.4L761.5 480.4L762.5 481.4L763.5 482.3L764.5 483.2L765.5 484.1L766.5 484.9L767.5 485.7L768.5 486.5L769.5 487.3L770.5 488L771.5 488.8L772.5 489.5L773.5 490.2L774.5 490.9L775.5 491.5L776.5 492.1L777.5 492.7L778.5 493.2L779.5 493.7L780.5 494.2L781.5 494.7L782.5 495.2L783.5 495.6L784.5 496L785.5 496.4L786.5 496.8L787.5 497.2L788.5 497.6L789.5 497.9L790.5 498.2L790.5 500.3 L625.5 500.3Z"/></clipPath>
<path d="M610.5 499.6L611.5 499.4L612.5 499.2L613.5 498.9L614.5 498.6L615.5 498.2L616.5 497.7L617.5 497.2L618.5 496.5L619.5 495.7L620.5 494.7L621.5 493.6L622.5 492.3L623.5 490.8L624.5 489L625.5 487L626.5 484.7L627.5 482L628.5 479L629.5 475.7L630.5 472L631.5 467.8L632.5 463.2L633.5 458.1L634.5 452.6L635.5 446.6L636.5 440.2L637.5 433.2L638.5 425.8L639.5 418L640.5 409.8L641.5 401.2L642.5 392.2L643.5 383.1L644.5 373.7L645.5 364.2L646.5 354.7L647.5 345.3L648.5 336L649.5 326.9L650.5 318.2L651.5 309.9L652.5 302.2L653.5 295.1L654.5 288.7L655.5 283.2L656.5 278.5L657.5 274.8L658.5 272L659.5 270.3L660.5 269.7L661.5 270.1L662.5 271.6L663.5 274.1L664.5 277.7L665.5 282.2L666.5 287.5L667.5 293.8L668.5 300.7L669.5 308.3L670.5 316.5L671.5 325.1L672.5 334.1L673.5 343.4L674.5 352.8L675.5 362.3L676.5 371.8L677.5 381.2L678.5 390.4L679.5 399.4L680.5 408.1L681.5 416.4L682.5 424.3L683.5 431.8L684.5 438.8L685.5 445.4L686.5 451.5L687.5 457.1L688.5 462.2L689.5 466.9L690.5 471.2L691.5 475L692.5 478.4L693.5 481.5L694.5 484.2L695.5 486.5L696.5 488.6L697.5 490.4L698.5 492L699.5 493.3L700.5 494.5L701.5 495.5L702.5 496.3L703.5 497L704.5 497.6L705.5 498.1L706.5 498.5L707.5 498.9L708.5 499.2L709.5 499.4L710.5 499.6L710.5 500.3 L610.5 500.3Z" fill="url(#stip)"/>
<path d="M669.5 499.7L670.5 499.6L671.5 499.5L672.5 499.4L673.5 499.3L674.5 499.1L675.5 499L676.5 498.8L677.5 498.7L678.5 498.5L679.5 498.3L680.5 498L681.5 497.8L682.5 497.5L683.5 497.2L684.5 496.9L685.5 496.6L686.5 496.2L687.5 495.8L688.5 495.3L689.5 494.9L690.5 494.4L691.5 493.8L692.5 493.2L693.5 492.6L694.5 491.9L695.5 491.2L696.5 490.5L697.5 489.7L698.5 488.8L699.5 487.9L700.5 487L701.5 486L702.5 484.9L703.5 483.9L704.5 482.7L705.5 481.5L706.5 480.3L707.5 479L708.5 477.7L709.5 476.3L710.5 474.9L711.5 473.4L712.5 471.9L713.5 470.4L714.5 468.8L715.5 467.2L716.5 465.6L717.5 463.9L718.5 462.3L719.5 460.6L720.5 458.9L721.5 457.3L722.5 455.6L723.5 453.9L724.5 452.3L725.5 450.6L726.5 449L727.5 447.4L728.5 445.9L729.5 444.4L730.5 443L731.5 441.6L732.5 440.3L733.5 439L734.5 437.8L735.5 436.7L736.5 435.7L737.5 434.8L738.5 434L739.5 433.2L740.5 432.6L741.5 432.1L742.5 431.6L743.5 431.3L744.5 431.1L745.5 431L746.5 431L747.5 431.1L748.5 431.4L749.5 431.7L750.5 432.2L751.5 432.7L752.5 433.4L753.5 434.1L754.5 435L755.5 435.9L756.5 437L757.5 438.1L758.5 439.3L759.5 440.5L760.5 441.9L761.5 443.3L762.5 444.7L763.5 446.2L764.5 447.8L765.5 449.3L766.5 450.9L767.5 452.6L768.5 454.2L769.5 455.9L770.5 457.6L771.5 459.3L772.5 461L773.5 462.6L774.5 464.3L775.5 465.9L776.5 467.5L777.5 469.1L778.5 470.7L779.5 472.2L780.5 473.7L781.5 475.2L782.5 476.6L783.5 477.9L784.5 479.3L785.5 480.5L786.5 481.8L787.5 482.9L788.5 484.1L789.5 485.2L790.5 486.2L791.5 487.2L792.5 488.1L793.5 489L794.5 489.8L795.5 490.6L796.5 491.4L797.5 492.1L798.5 492.7L799.5 493.3L800.5 493.9L801.5 494.5L802.5 495L803.5 495.4L804.5 495.9L805.5 496.3L806.5 496.6L807.5 497L808.5 497.3L809.5 497.6L810.5 497.8L811.5 498.1L812.5 498.3L813.5 498.5L814.5 498.7L815.5 498.9L816.5 499L817.5 499.2L818.5 499.3L819.5 499.4L820.5 499.5L821.5 499.6L822.5 499.7L822.5 500.3 L669.5 500.3Z" fill="url(#stip)"/>
<path d="M625.5 499.5L626.5 499.2L627.5 498.9L628.5 498.4L629.5 497.9L630.5 497.2L631.5 496.5L632.5 495.7L633.5 494.9L634.5 494.1L635.5 493.2L636.5 492.2L637.5 491L638.5 489.7L639.5 488.2L640.5 486.6L641.5 484.9L642.5 483.3L643.5 481.5L644.5 479.8L645.5 478.2L646.5 476.6L647.5 474.9L648.5 473.2L649.5 471.4L650.5 469.7L651.5 467.9L652.5 466.1L653.5 464.3L654.5 462.5L655.5 460.8L656.5 459L657.5 457.2L658.5 455.4L659.5 453.5L660.5 451.7L661.5 449.9L662.5 448.1L663.5 446.4L664.5 444.7L665.5 443.2L666.5 441.6L667.5 440.1L668.5 438.5L669.5 437L670.5 435.6L671.5 434.2L672.5 432.8L673.5 431.6L674.5 430.5L675.5 429.5L676.5 428.6L677.5 427.7L678.5 426.9L679.5 426.1L680.5 425.3L681.5 424.6L682.5 424L683.5 423.5L684.5 423L685.5 422.6L686.5 422.2L687.5 421.9L688.5 421.6L689.5 421.3L690.5 421.1L691.5 421L692.5 421L693.5 421.1L694.5 421.1L695.5 421.3L696.5 421.4L697.5 421.6L698.5 421.8L699.5 422L700.5 422.3L701.5 422.5L702.5 422.8L703.5 423.1L704.5 423.4L705.5 423.8L706.5 424.3L707.5 424.8L708.5 425.4L709.5 426L710.5 426.7L711.5 427.3L712.5 428.1L713.5 428.8L714.5 429.5L715.5 430.3L716.5 431L717.5 431.9L718.5 432.7L719.5 433.7L720.5 434.6L721.5 435.6L722.5 436.7L723.5 437.7L724.5 438.8L725.5 439.9L726.5 441L727.5 442.1L728.5 443.2L729.5 444.3L730.5 445.5L731.5 446.7L732.5 447.9L733.5 449.1L734.5 450.3L735.5 451.6L736.5 452.8L737.5 454L738.5 455.3L739.5 456.5L740.5 457.6L741.5 458.8L742.5 459.9L743.5 461.1L744.5 462.2L745.5 463.3L746.5 464.4L747.5 465.5L748.5 466.6L749.5 467.7L750.5 468.8L751.5 469.9L752.5 471L753.5 472L754.5 473.1L755.5 474.1L756.5 475.2L757.5 476.3L758.5 477.3L759.5 478.4L760.5 479.4L761.5 480.4L762.5 481.4L763.5 482.3L764.5 483.2L765.5 484.1L766.5 484.9L767.5 485.7L768.5 486.5L769.5 487.3L770.5 488L771.5 488.8L772.5 489.5L773.5 490.2L774.5 490.9L775.5 491.5L776.5 492.1L777.5 492.7L778.5 493.2L779.5 493.7L780.5 494.2L781.5 494.7L782.5 495.2L783.5 495.6L784.5 496L785.5 496.4L786.5 496.8L787.5 497.2L788.5 497.6L789.5 497.9L790.5 498.2L790.5 500.3 L625.5 500.3Z" fill="url(#hat)"/>
<g clip-path="url(#csb)"><path d="M610.5 499.6L611.5 499.4L612.5 499.2L613.5 498.9L614.5 498.6L615.5 498.2L616.5 497.7L617.5 497.2L618.5 496.5L619.5 495.7L620.5 494.7L621.5 493.6L622.5 492.3L623.5 490.8L624.5 489L625.5 487L626.5 484.7L627.5 482L628.5 479L629.5 475.7L630.5 472L631.5 467.8L632.5 463.2L633.5 458.1L634.5 452.6L635.5 446.6L636.5 440.2L637.5 433.2L638.5 425.8L639.5 418L640.5 409.8L641.5 401.2L642.5 392.2L643.5 383.1L644.5 373.7L645.5 364.2L646.5 354.7L647.5 345.3L648.5 336L649.5 326.9L650.5 318.2L651.5 309.9L652.5 302.2L653.5 295.1L654.5 288.7L655.5 283.2L656.5 278.5L657.5 274.8L658.5 272L659.5 270.3L660.5 269.7L661.5 270.1L662.5 271.6L663.5 274.1L664.5 277.7L665.5 282.2L666.5 287.5L667.5 293.8L668.5 300.7L669.5 308.3L670.5 316.5L671.5 325.1L672.5 334.1L673.5 343.4L674.5 352.8L675.5 362.3L676.5 371.8L677.5 381.2L678.5 390.4L679.5 399.4L680.5 408.1L681.5 416.4L682.5 424.3L683.5 431.8L684.5 438.8L685.5 445.4L686.5 451.5L687.5 457.1L688.5 462.2L689.5 466.9L690.5 471.2L691.5 475L692.5 478.4L693.5 481.5L694.5 484.2L695.5 486.5L696.5 488.6L697.5 490.4L698.5 492L699.5 493.3L700.5 494.5L701.5 495.5L702.5 496.3L703.5 497L704.5 497.6L705.5 498.1L706.5 498.5L707.5 498.9L708.5 499.2L709.5 499.4L710.5 499.6L710.5 500.3 L610.5 500.3Z" fill="url(#xhat)"/><path d="M669.5 499.7L670.5 499.6L671.5 499.5L672.5 499.4L673.5 499.3L674.5 499.1L675.5 499L676.5 498.8L677.5 498.7L678.5 498.5L679.5 498.3L680.5 498L681.5 497.8L682.5 497.5L683.5 497.2L684.5 496.9L685.5 496.6L686.5 496.2L687.5 495.8L688.5 495.3L689.5 494.9L690.5 494.4L691.5 493.8L692.5 493.2L693.5 492.6L694.5 491.9L695.5 491.2L696.5 490.5L697.5 489.7L698.5 488.8L699.5 487.9L700.5 487L701.5 486L702.5 484.9L703.5 483.9L704.5 482.7L705.5 481.5L706.5 480.3L707.5 479L708.5 477.7L709.5 476.3L710.5 474.9L711.5 473.4L712.5 471.9L713.5 470.4L714.5 468.8L715.5 467.2L716.5 465.6L717.5 463.9L718.5 462.3L719.5 460.6L720.5 458.9L721.5 457.3L722.5 455.6L723.5 453.9L724.5 452.3L725.5 450.6L726.5 449L727.5 447.4L728.5 445.9L729.5 444.4L730.5 443L731.5 441.6L732.5 440.3L733.5 439L734.5 437.8L735.5 436.7L736.5 435.7L737.5 434.8L738.5 434L739.5 433.2L740.5 432.6L741.5 432.1L742.5 431.6L743.5 431.3L744.5 431.1L745.5 431L746.5 431L747.5 431.1L748.5 431.4L749.5 431.7L750.5 432.2L751.5 432.7L752.5 433.4L753.5 434.1L754.5 435L755.5 435.9L756.5 437L757.5 438.1L758.5 439.3L759.5 440.5L760.5 441.9L761.5 443.3L762.5 444.7L763.5 446.2L764.5 447.8L765.5 449.3L766.5 450.9L767.5 452.6L768.5 454.2L769.5 455.9L770.5 457.6L771.5 459.3L772.5 461L773.5 462.6L774.5 464.3L775.5 465.9L776.5 467.5L777.5 469.1L778.5 470.7L779.5 472.2L780.5 473.7L781.5 475.2L782.5 476.6L783.5 477.9L784.5 479.3L785.5 480.5L786.5 481.8L787.5 482.9L788.5 484.1L789.5 485.2L790.5 486.2L791.5 487.2L792.5 488.1L793.5 489L794.5 489.8L795.5 490.6L796.5 491.4L797.5 492.1L798.5 492.7L799.5 493.3L800.5 493.9L801.5 494.5L802.5 495L803.5 495.4L804.5 495.9L805.5 496.3L806.5 496.6L807.5 497L808.5 497.3L809.5 497.6L810.5 497.8L811.5 498.1L812.5 498.3L813.5 498.5L814.5 498.7L815.5 498.9L816.5 499L817.5 499.2L818.5 499.3L819.5 499.4L820.5 499.5L821.5 499.6L822.5 499.7L822.5 500.3 L669.5 500.3Z" fill="url(#xhat)"/></g>
<path d="M610.5 499.6L611.5 499.4L612.5 499.2L613.5 498.9L614.5 498.6L615.5 498.2L616.5 497.7L617.5 497.2L618.5 496.5L619.5 495.7L620.5 494.7L621.5 493.6L622.5 492.3L623.5 490.8L624.5 489L625.5 487L626.5 484.7L627.5 482L628.5 479L629.5 475.7L630.5 472L631.5 467.8L632.5 463.2L633.5 458.1L634.5 452.6L635.5 446.6L636.5 440.2L637.5 433.2L638.5 425.8L639.5 418L640.5 409.8L641.5 401.2L642.5 392.2L643.5 383.1L644.5 373.7L645.5 364.2L646.5 354.7L647.5 345.3L648.5 336L649.5 326.9L650.5 318.2L651.5 309.9L652.5 302.2L653.5 295.1L654.5 288.7L655.5 283.2L656.5 278.5L657.5 274.8L658.5 272L659.5 270.3L660.5 269.7L661.5 270.1L662.5 271.6L663.5 274.1L664.5 277.7L665.5 282.2L666.5 287.5L667.5 293.8L668.5 300.7L669.5 308.3L670.5 316.5L671.5 325.1L672.5 334.1L673.5 343.4L674.5 352.8L675.5 362.3L676.5 371.8L677.5 381.2L678.5 390.4L679.5 399.4L680.5 408.1L681.5 416.4L682.5 424.3L683.5 431.8L684.5 438.8L685.5 445.4L686.5 451.5L687.5 457.1L688.5 462.2L689.5 466.9L690.5 471.2L691.5 475L692.5 478.4L693.5 481.5L694.5 484.2L695.5 486.5L696.5 488.6L697.5 490.4L698.5 492L699.5 493.3L700.5 494.5L701.5 495.5L702.5 496.3L703.5 497L704.5 497.6L705.5 498.1L706.5 498.5L707.5 498.9L708.5 499.2L709.5 499.4L710.5 499.6" fill="none" stroke="#444" stroke-width="1.1"/>
<path d="M669.5 499.7L670.5 499.6L671.5 499.5L672.5 499.4L673.5 499.3L674.5 499.1L675.5 499L676.5 498.8L677.5 498.7L678.5 498.5L679.5 498.3L680.5 498L681.5 497.8L682.5 497.5L683.5 497.2L684.5 496.9L685.5 496.6L686.5 496.2L687.5 495.8L688.5 495.3L689.5 494.9L690.5 494.4L691.5 493.8L692.5 493.2L693.5 492.6L694.5 491.9L695.5 491.2L696.5 490.5L697.5 489.7L698.5 488.8L699.5 487.9L700.5 487L701.5 486L702.5 484.9L703.5 483.9L704.5 482.7L705.5 481.5L706.5 480.3L707.5 479L708.5 477.7L709.5 476.3L710.5 474.9L711.5 473.4L712.5 471.9L713.5 470.4L714.5 468.8L715.5 467.2L716.5 465.6L717.5 463.9L718.5 462.3L719.5 460.6L720.5 458.9L721.5 457.3L722.5 455.6L723.5 453.9L724.5 452.3L725.5 450.6L726.5 449L727.5 447.4L728.5 445.9L729.5 444.4L730.5 443L731.5 441.6L732.5 440.3L733.5 439L734.5 437.8L735.5 436.7L736.5 435.7L737.5 434.8L738.5 434L739.5 433.2L740.5 432.6L741.5 432.1L742.5 431.6L743.5 431.3L744.5 431.1L745.5 431L746.5 431L747.5 431.1L748.5 431.4L749.5 431.7L750.5 432.2L751.5 432.7L752.5 433.4L753.5 434.1L754.5 435L755.5 435.9L756.5 437L757.5 438.1L758.5 439.3L759.5 440.5L760.5 441.9L761.5 443.3L762.5 444.7L763.5 446.2L764.5 447.8L765.5 449.3L766.5 450.9L767.5 452.6L768.5 454.2L769.5 455.9L770.5 457.6L771.5 459.3L772.5 461L773.5 462.6L774.5 464.3L775.5 465.9L776.5 467.5L777.5 469.1L778.5 470.7L779.5 472.2L780.5 473.7L781.5 475.2L782.5 476.6L783.5 477.9L784.5 479.3L785.5 480.5L786.5 481.8L787.5 482.9L788.5 484.1L789.5 485.2L790.5 486.2L791.5 487.2L792.5 488.1L793.5 489L794.5 489.8L795.5 490.6L796.5 491.4L797.5 492.1L798.5 492.7L799.5 493.3L800.5 493.9L801.5 494.5L802.5 495L803.5 495.4L804.5 495.9L805.5 496.3L806.5 496.6L807.5 497L808.5 497.3L809.5 497.6L810.5 497.8L811.5 498.1L812.5 498.3L813.5 498.5L814.5 498.7L815.5 498.9L816.5 499L817.5 499.2L818.5 499.3L819.5 499.4L820.5 499.5L821.5 499.6L822.5 499.7" fill="none" stroke="#444" stroke-width="1.1"/>
<path d="M625.5 499.5L626.5 499.2L627.5 498.9L628.5 498.4L629.5 497.9L630.5 497.2L631.5 496.5L632.5 495.7L633.5 494.9L634.5 494.1L635.5 493.2L636.5 492.2L637.5 491L638.5 489.7L639.5 488.2L640.5 486.6L641.5 484.9L642.5 483.3L643.5 481.5L644.5 479.8L645.5 478.2L646.5 476.6L647.5 474.9L648.5 473.2L649.5 471.4L650.5 469.7L651.5 467.9L652.5 466.1L653.5 464.3L654.5 462.5L655.5 460.8L656.5 459L657.5 457.2L658.5 455.4L659.5 453.5L660.5 451.7L661.5 449.9L662.5 448.1L663.5 446.4L664.5 444.7L665.5 443.2L666.5 441.6L667.5 440.1L668.5 438.5L669.5 437L670.5 435.6L671.5 434.2L672.5 432.8L673.5 431.6L674.5 430.5L675.5 429.5L676.5 428.6L677.5 427.7L678.5 426.9L679.5 426.1L680.5 425.3L681.5 424.6L682.5 424L683.5 423.5L684.5 423L685.5 422.6L686.5 422.2L687.5 421.9L688.5 421.6L689.5 421.3L690.5 421.1L691.5 421L692.5 421L693.5 421.1L694.5 421.1L695.5 421.3L696.5 421.4L697.5 421.6L698.5 421.8L699.5 422L700.5 422.3L701.5 422.5L702.5 422.8L703.5 423.1L704.5 423.4L705.5 423.8L706.5 424.3L707.5 424.8L708.5 425.4L709.5 426L710.5 426.7L711.5 427.3L712.5 428.1L713.5 428.8L714.5 429.5L715.5 430.3L716.5 431L717.5 431.9L718.5 432.7L719.5 433.7L720.5 434.6L721.5 435.6L722.5 436.7L723.5 437.7L724.5 438.8L725.5 439.9L726.5 441L727.5 442.1L728.5 443.2L729.5 444.3L730.5 445.5L731.5 446.7L732.5 447.9L733.5 449.1L734.5 450.3L735.5 451.6L736.5 452.8L737.5 454L738.5 455.3L739.5 456.5L740.5 457.6L741.5 458.8L742.5 459.9L743.5 461.1L744.5 462.2L745.5 463.3L746.5 464.4L747.5 465.5L748.5 466.6L749.5 467.7L750.5 468.8L751.5 469.9L752.5 471L753.5 472L754.5 473.1L755.5 474.1L756.5 475.2L757.5 476.3L758.5 477.3L759.5 478.4L760.5 479.4L761.5 480.4L762.5 481.4L763.5 482.3L764.5 483.2L765.5 484.1L766.5 484.9L767.5 485.7L768.5 486.5L769.5 487.3L770.5 488L771.5 488.8L772.5 489.5L773.5 490.2L774.5 490.9L775.5 491.5L776.5 492.1L777.5 492.7L778.5 493.2L779.5 493.7L780.5 494.2L781.5 494.7L782.5 495.2L783.5 495.6L784.5 496L785.5 496.4L786.5 496.8L787.5 497.2L788.5 497.6L789.5 497.9L790.5 498.2" fill="none" stroke="#444" stroke-width="1.1"/>
<path d="M609.9 499.4L610.9 499.2L611.9 498.9L612.9 498.6L613.9 498.2L614.9 497.7L615.9 497.2L616.9 496.5L617.9 495.7L618.9 494.7L619.9 493.6L620.9 492.3L621.9 490.8L622.9 489L623.9 486.2L624.9 483.6L625.9 480.6L626.9 477.2L627.9 473.3L628.9 468.9L629.9 464L630.9 458.6L631.9 452.8L632.9 446.4L633.9 439.5L634.9 432.1L635.9 423.9L636.9 415.2L637.9 405.9L638.9 396L639.9 385.8L640.9 375.2L641.9 364.3L642.9 353.2L643.9 342.1L644.9 331L645.9 319.8L646.9 308.8L647.9 298L649 287.5L650 277.4L651 267.9L652.1 259L653.1 250.9L654.2 243.5L655.3 237.1L656.4 231.5L657.6 227L658.8 223.4L660 220.9L661.2 219.5L662.5 219.2L663.8 219.9L665 221.8L666.2 224.6L667.4 228.4L668.6 233L669.7 238.4L670.8 244.4L671.9 251L672.9 258.2L674 265.7L675 273.7L676 281.8L677.1 290.2L678.1 298.6L679.1 307L680.1 315.2L681.1 323.1L682.1 330.8L683.1 338.2L684.1 345.2L685.1 351.9L686.1 358.1L687.1 363.9L688.1 369.3L689.1 374.1L690.1 378.5L691.1 382.5L692.1 386L693.1 389.2L694.1 392L695.1 394.5L696.1 396.6L697.1 398.4L698.1 399.9L699.1 401.1L700.1 402L701.1 402.7L702.1 403.2L703.1 403.4L704.1 403.5L705.1 403.4L706.1 403.2L707.1 402.9L708.1 402.5L709.1 402.1L710.1 401.6L711.1 401.1L712.1 400.5L713.1 399.9L714.1 399.2L715.1 398.5L716.1 397.8L717.1 397L718.1 396.2L719.1 395.4L720.1 394.6L721.1 393.9L722.1 393.2L723.1 392.6L724.1 391.9L725.1 391.3L726.1 390.8L727.1 390.2L728.1 389.7L729.1 389.3L730.1 388.8L731.1 388.4L732.1 388.2L733.1 388L734.1 387.8L735.1 387.8L736.1 387.9L737.1 388L738.1 388.2L739.1 388.5L740.1 388.9L741.1 389.4L742.1 389.9L743.1 390.6L744.1 391.3L745.1 392.1L746.1 393L747.1 394L748.1 395.2L749.1 396.4L750.1 397.7L751.1 399.1L752.1 400.7L753.1 402.3L754.1 404L755.1 405.8L756.1 407.7L757.1 409.8L758.1 411.8L759.1 414L760.1 416.3L761.1 418.6L762.1 420.9L763.1 423.3L764.1 425.8L765.1 428.2L766.1 430.7L767.1 433.1L768.1 435.6L769.1 438L770.1 440.5L771.1 442.9L772.1 445.3L773.1 447.8L774.1 450.2L775.1 452.5L776.1 454.8L777.1 457.1L778.1 459.3L779.1 461.5L780.1 463.6L781.1 465.6L782.1 467.6L783.1 469.5L784.1 471.4L785.1 473.2L786.1 475L787.1 476.7L788.1 478.3L789.1 479.9L790.1 481.3L791.1 482.7L792.1 484.1L793.1 487.2L794.1 488.1L795.1 489L796.1 489.8L797.1 490.6L798.1 491.4L799.1 492.1L800.1 492.7L801.1 493.3L802.1 493.9L803.1 494.5L804.1 495L805.1 495.4L806.1 495.9L807.1 496.3L808.1 496.6L809.1 497L810.1 497.3L811.1 497.6L812.1 497.8L813.1 498.1L814.1 498.3L815.1 498.5L816.1 498.7L817.1 498.9L818.1 499L819.1 499.2L820.1 499.3L821.1 499.4L822.1 499.5" fill="none" stroke="#505050" stroke-width="1.15" stroke-dasharray="5.5 3"/>
<path d="M677.1 282.4h2.1v2h-2.1zM679.6 282.4h2.1v2h-2.1zM716.7 291h2.2v2.1h-2.2zM671.9 299.7h2.2v2.1h-2.2zM683.4 325.7h2.1v2h-2.1zM742.3 325.6h2.2v2.1h-2.2zM719.2 334.3h2.2v2.1h-2.2zM684.6 343h2.2v2.1h-2.2zM680.9 351.6h2.2v2.1h-2.2zM690.9 351.7h2.1v2h-2.1zM707.2 351.7h2.1v2h-2.1zM715.9 351.6h2.2v2.1h-2.2zM724.8 351.7h2.1v2h-2.1zM727.2 351.7h2.1v2h-2.1zM710.9 360.3h2.2v2.1h-2.2zM631.9 369h2.2v2.1h-2.2zM693.4 369h2.2v2.1h-2.2zM722.2 369h2.2v2.1h-2.2zM737.4 369h2.1v2h-2.1zM682.1 386.3h2.2v2.1h-2.2zM706 386.3h2.1v2h-2.1zM727.2 386.3h2.1v2h-2.1zM729.8 386.3h2.1v2h-2.1zM688.3 403.6h2.2v2.1h-2.2zM697.2 403.7h2.1v2h-2.1zM720.9 403.6h2.2v2.1h-2.2zM769.4 403.6h2.2v2.1h-2.2zM707.2 412.3h2.1v2h-2.1zM709.8 412.3h2.1v2h-2.1zM754.9 412.3h2.1v2h-2.1zM815 412.3h2.2v2.1h-2.2zM639.4 421h2.2v2.1h-2.2zM710.9 421h2.2v2.1h-2.2zM717.2 421h2.1v2h-2.1zM722.2 421h2.1v2h-2.1zM782.4 420.9h2.2v2.1h-2.2zM833.9 420.9h2.2v2.1h-2.2zM630.7 429.7h2.1v2h-2.1zM723.5 429.6h2.2v2.1h-2.2zM744.8 429.6h2.2v2.1h-2.2zM628.2 438.4h2.1v2h-2.1zM752.3 438.3h2.2v2.1h-2.2zM746 447h2.1v2h-2.1zM751 447h2.1v2h-2.1zM792.6 447h2.1v2h-2.1zM800.1 447h2.1v2h-2.1zM802.6 447h2.1v2h-2.1zM807.6 447h2.1v2h-2.1zM850.2 447h2.1v2h-2.1zM852.8 447h2.1v2h-2.1zM614.3 455.6h2.2v2.1h-2.2zM625.6 455.6h2.2v2.1h-2.2zM767.4 455.6h2.2v2.1h-2.2zM792.5 455.7h2.1v2h-2.1zM800 455.7h2.1v2h-2.1zM810 455.7h2.1v2h-2.1zM820 455.7h2.1v2h-2.1zM861.5 455.6h2.1v2h-2.1zM864 455.6h2.1v2h-2.1zM873.9 455.6h2.2v2.1h-2.2zM890.4 455.6h2.1v2h-2.1zM620.7 464.3h2.1v2h-2.1zM777.5 464.3h2.1v2h-2.1zM792.5 464.3h2.1v2h-2.1zM795 464.3h2.1v2h-2.1zM816.4 464.3h2.1v2h-2.1zM826.4 464.3h2.1v2h-2.1zM871.5 464.3h2.1v2h-2.1zM874 464.3h2.1v2h-2.1zM900.3 464.3h2.2v2.1h-2.2zM608.2 473h2.1v2h-2.1zM613.2 473h2.1v2h-2.1zM618.2 473h2.1v2h-2.1zM798.8 473h2.1v2h-2.1zM801.2 473h2.1v2h-2.1zM825.2 473h2.1v2h-2.1zM830.2 473h2.1v2h-2.1zM835.2 473h2.1v2h-2.1zM880.2 473h2.1v2h-2.1zM928 473h2.1v2h-2.1zM608.2 481.7h2.1v2h-2.1zM800 481.7h2.1v2h-2.1zM832.7 481.7h2.1v2h-2.1zM842.7 481.7h2.1v2h-2.1zM845.2 481.7h2.1v2h-2.1zM850.2 481.7h2.1v2h-2.1zM865.2 481.7h2.1v2h-2.1zM867.8 481.7h2.1v2h-2.1zM880.4 481.7h2.1v2h-2.1zM897.9 481.7h2.1v2h-2.1zM915.5 481.7h2.1v2h-2.1zM918 481.7h2.1v2h-2.1zM794.9 490.3h2.2v2.1h-2.2zM887.9 490.3h2.1v2h-2.1zM897.9 490.3h2.1v2h-2.1zM905.4 490.3h2.1v2h-2.1zM912.9 490.3h2.1v2h-2.1zM918 490.3h2.1v2h-2.1zM657.5 134.9h2.2v2.1h-2.2zM659.5 152.8h2.2v2.1h-2.2zM675.8 152.8h2.2v2.1h-2.2zM664.5 160.9h2.2v2.1h-2.2zM665.8 178.8h2.2v2.1h-2.2zM660 195.9h2.2v2.1h-2.2zM654.5 204.6h2.2v2.1h-2.2zM660.9 204.6h2.2v2.1h-2.2zM666.9 204.6h2.2v2.1h-2.2zM649.5 220.9h2.2v2.1h-2.2zM707.2 265.6h2.2v2.1h-2.2zM644.4 274.9h2.2v2.1h-2.2zM676.9 283.1h2.2v2.1h-2.2z" fill="#858585"/>
<path d="M674.6 282.4h2.1v2h-2.1zM744.3 290.9h2.2v2.1h-2.2zM641.4 308.4h2.2v2.1h-2.2zM649.5 308.3h2.2v2.1h-2.2zM695.9 308.3h2.2v2.1h-2.2zM671.5 317h2.2v2.1h-2.2zM745.3 316.9h2.2v2.1h-2.2zM644.4 325.7h2.2v2.1h-2.2zM685.9 325.7h2.1v2h-2.1zM749.9 325.6h2.2v2.1h-2.2zM648.2 334.3h2.2v2.1h-2.2zM733.5 334.3h2.2v2.1h-2.2zM743.5 334.3h2.2v2.1h-2.2zM721 343h2.1v2h-2.1zM723.5 343h2.1v2h-2.1zM731.7 342.9h2.2v2.1h-2.2zM688.4 351.7h2.1v2h-2.1zM693.4 351.7h2.1v2h-2.1zM704.8 351.7h2.1v2h-2.1zM709.8 351.7h2.1v2h-2.1zM729.8 351.7h2.1v2h-2.1zM679.6 360.3h2.2v2.1h-2.2zM699.7 360.4h2.1v2h-2.1zM702.2 360.3h2.1v2h-2.1zM726 360.3h2.1v2h-2.1zM734.8 360.3h2.2v2.1h-2.2zM639.4 369h2.2v2.1h-2.2zM702.1 369h2.2v2.1h-2.2zM729.7 369h2.2v2.1h-2.2zM739.9 369h2.1v2h-2.1zM699.7 377.7h2.1v2h-2.1zM702.2 377.7h2.1v2h-2.1zM734.9 377.7h2.1v2h-2.1zM737.4 377.7h2.1v2h-2.1zM739.9 377.7h2.1v2h-2.1zM757.8 377.6h2.2v2.1h-2.2zM708.5 386.3h2.1v2h-2.1zM711 386.3h2.1v2h-2.1zM687.2 395h2.1v2h-2.1zM689.7 395h2.1v2h-2.1zM692.2 395h2.1v2h-2.1zM708.4 395h2.2v2.1h-2.2zM742.3 394.9h2.2v2.1h-2.2zM787.4 394.9h2.2v2.1h-2.2zM694.7 403.7h2.1v2h-2.1zM699.7 403.7h2.1v2h-2.1zM702.2 403.7h2.1v2h-2.1zM730.9 403.6h2.2v2.1h-2.2zM754.8 403.6h2.2v2.1h-2.2zM633.1 412.3h2.2v2.1h-2.2zM704.8 412.3h2.1v2h-2.1zM712.2 412.3h2.1v2h-2.1zM714.8 412.3h2.1v2h-2.1zM738.5 412.3h2.2v2.1h-2.2zM747.4 412.3h2.1v2h-2.1zM749.9 412.3h2.1v2h-2.1zM752.4 412.3h2.1v2h-2.1zM760 412.3h2.1v2h-2.1zM762.5 412.3h2.1v2h-2.1zM765 412.3h2.1v2h-2.1zM771.2 412.3h2.1v2h-2.1zM773.7 412.3h2.1v2h-2.1zM778.7 412.3h2.1v2h-2.1zM623.2 421h2.1v2h-2.1zM625.7 421h2.1v2h-2.1zM719.8 421h2.1v2h-2.1zM761.1 420.9h2.2v2.1h-2.2zM633.2 429.7h2.1v2h-2.1zM736 429.6h2.2v2.1h-2.2zM776.2 429.6h2.2v2.1h-2.2zM820.6 429.6h2.2v2.1h-2.2zM611.1 438.3h2.2v2.1h-2.2zM620.7 438.4h2.1v2h-2.1zM630.7 438.4h2.1v2h-2.1zM761.2 438.3h2.1v2h-2.1zM763.7 438.3h2.1v2h-2.1zM766.2 438.3h2.1v2h-2.1zM783.7 438.3h2.2v2.1h-2.2zM836.4 438.3h2.2v2.1h-2.2zM631.9 447h2.2v2.1h-2.2zM748.5 447h2.1v2h-2.1zM760.9 446.9h2.2v2.1h-2.2zM784.9 446.9h2.2v2.1h-2.2zM795.1 447h2.1v2h-2.1zM797.6 447h2.1v2h-2.1zM805.1 447h2.1v2h-2.1zM821.3 446.9h2.2v2.1h-2.2zM832.6 446.9h2.2v2.1h-2.2zM840.1 446.9h2.2v2.1h-2.2zM847.8 447h2.1v2h-2.1zM855.2 447h2.1v2h-2.1zM894.1 446.9h2.2v2.1h-2.2zM912.9 446.9h2.2v2.1h-2.2zM785 455.7h2.1v2h-2.1zM790 455.7h2.1v2h-2.1zM802.5 455.7h2.1v2h-2.1zM805 455.7h2.1v2h-2.1zM812.5 455.7h2.1v2h-2.1zM815 455.7h2.1v2h-2.1zM817.5 455.7h2.1v2h-2.1zM822.5 455.7h2.1v2h-2.1zM825 455.6h2.1v2h-2.1zM830.1 455.6h2.2v2.1h-2.2zM844 455.6h2.1v2h-2.1zM846.5 455.6h2.1v2h-2.1zM849 455.6h2.1v2h-2.1zM851.5 455.6h2.1v2h-2.1zM854 455.6h2.1v2h-2.1zM856.5 455.6h2.1v2h-2.1zM885.4 455.6h2.1v2h-2.1zM892.9 455.6h2.1v2h-2.1zM599.3 464.3h2.2v2.1h-2.2zM606.9 464.3h2.2v2.1h-2.2zM615.7 464.3h2.1v2h-2.1zM618.2 464.3h2.1v2h-2.1zM623.2 464.3h2.1v2h-2.1zM625.7 464.3h2.1v2h-2.1zM772.5 464.3h2.1v2h-2.1zM775 464.3h2.1v2h-2.1zM780 464.3h2.1v2h-2.1zM787.5 464.3h2.1v2h-2.1zM790 464.3h2.1v2h-2.1zM807.5 464.3h2.2v2.1h-2.2zM818.9 464.3h2.1v2h-2.1zM821.4 464.3h2.1v2h-2.1zM823.9 464.3h2.1v2h-2.1zM835.2 464.3h2.1v2h-2.1zM837.7 464.3h2.1v2h-2.1zM840.2 464.3h2.1v2h-2.1zM842.7 464.3h2.1v2h-2.1zM861.5 464.3h2.1v2h-2.1zM864 464.3h2.1v2h-2.1zM869 464.3h2.1v2h-2.1zM876.5 464.3h2.1v2h-2.1zM879 464.3h2.1v2h-2.1zM907.9 464.3h2.2v2.1h-2.2zM921.2 464.3h2.2v2.1h-2.2zM596.9 473h2.1v2h-2.1zM599.4 473h2.1v2h-2.1zM601.9 473h2.1v2h-2.1zM604.4 473h2.1v2h-2.1zM610.7 473h2.1v2h-2.1zM615.7 473h2.1v2h-2.1zM626.9 473h2.2v2.1h-2.2zM782.4 472.9h2.2v2.1h-2.2zM803.8 473h2.1v2h-2.1zM806.2 473h2.1v2h-2.1zM808.8 473h2.1v2h-2.1zM811.2 473h2.1v2h-2.1zM820.2 473h2.1v2h-2.1zM822.7 473h2.1v2h-2.1zM827.7 473h2.1v2h-2.1zM837.7 473h2.1v2h-2.1zM840.2 473h2.1v2h-2.1zM847.6 472.9h2.2v2.1h-2.2zM867.8 473h2.1v2h-2.1zM870.2 473h2.1v2h-2.1zM872.8 473h2.1v2h-2.1zM875.2 473h2.1v2h-2.1zM877.8 473h2.1v2h-2.1zM882.8 473h2.1v2h-2.1zM895.3 472.9h2.2v2.1h-2.2zM905.4 472.9h2.2v2.1h-2.2zM920.5 473h2.1v2h-2.1zM923 473h2.1v2h-2.1zM925.5 473h2.1v2h-2.1zM596.3 481.6h2.2v2.1h-2.2zM605.7 481.7h2.1v2h-2.1zM610.7 481.7h2.1v2h-2.1zM790 481.7h2.1v2h-2.1zM792.5 481.7h2.1v2h-2.1zM795 481.7h2.1v2h-2.1zM797.5 481.7h2.1v2h-2.1zM802.5 481.7h2.1v2h-2.1zM805 481.7h2.1v2h-2.1zM807.5 481.7h2.1v2h-2.1zM827.7 481.7h2.1v2h-2.1zM830.2 481.7h2.1v2h-2.1zM847.7 481.7h2.1v2h-2.1zM852.7 481.7h2.1v2h-2.1zM862.8 481.7h2.1v2h-2.1zM877.9 481.7h2.1v2h-2.1zM882.9 481.7h2.1v2h-2.1zM885.4 481.7h2.1v2h-2.1zM890.4 481.7h2.1v2h-2.1zM892.9 481.7h2.1v2h-2.1zM895.4 481.7h2.1v2h-2.1zM900.4 481.7h2.1v2h-2.1zM902.9 481.7h2.1v2h-2.1zM910.5 481.7h2.1v2h-2.1zM913 481.7h2.1v2h-2.1zM920.5 481.7h2.1v2h-2.1zM926.7 481.6h2.2v2.1h-2.2zM599.4 490.3h2.1v2h-2.1zM601.9 490.3h2.1v2h-2.1zM604.4 490.3h2.1v2h-2.1zM842.6 490.3h2.2v2.1h-2.2zM855.2 490.3h2.1v2h-2.1zM857.8 490.3h2.1v2h-2.1zM860.2 490.3h2.1v2h-2.1zM862.8 490.3h2.1v2h-2.1zM865.2 490.3h2.1v2h-2.1zM876.5 490.3h2.2v2.1h-2.2zM892.9 490.3h2.1v2h-2.1zM900.4 490.3h2.1v2h-2.1zM902.9 490.3h2.1v2h-2.1zM907.9 490.3h2.1v2h-2.1zM910.4 490.3h2.1v2h-2.1zM920.5 490.3h2.1v2h-2.1zM925.5 490.3h2.1v2h-2.1zM928 490.3h2.1v2h-2.1zM654.5 152.8h2.2v2.1h-2.2zM652.5 178.8h2.2v2.1h-2.2zM646.9 230.2h2.2v2.1h-2.2zM664.5 229.2h2.2v2.1h-2.2zM653.2 247.3h2.2v2.1h-2.2zM674.5 247.3h2.2v2.1h-2.2zM678.3 247.3h2.2v2.1h-2.2zM655.7 256.1h2.2v2.1h-2.2zM674 256.1h2.2v2.1h-2.2zM653.2 265.6h2.2v2.1h-2.2zM671.9 274.9h2.2v2.1h-2.2zM675.9 274.9h2.2v2.1h-2.2zM673.3 283.1h2.2v2.1h-2.2zM680.9 283.1h2.2v2.1h-2.2z" fill="#555"/>
<path d="M689.2 360h3v2.8h-3zM749.4 385.9h3v2.8h-3zM755.2 394.6h3v2.8h-3zM854.8 472.6h3v2.8h-3zM813.4 489.9h3v2.8h-3zM667.1 117.3h3v2.8h-3z" fill="#262626"/>
<path d="M553 84.3L967 83.6L968.1 500L556 500Z" fill="none" stroke="#7e7e7e" stroke-width="1.25"/>
<path d="M931 500.4L970.1 500.4" stroke="#3f3f3f" stroke-width="2.2"/>
<path d="M811.5 500.3L931 500.3" stroke="#5a5a5a" stroke-width="1.6" stroke-dasharray="3 2"/>
<path d="M604.8 81.9v4.6M607.5 497.4v2.6M656.5 81.8v4.6M659 497.4v2.6M708.2 81.7v4.6M710.5 497.4v2.6M760 81.6v4.6M762 497.4v2.6M811.8 81.6v4.6M813.6 497.4v2.6M863.5 81.5v4.6M865.1 497.4v2.6M915.2 81.4v4.6M916.6 497.4v2.6M967 81.3v4.6M968.1 497.4v2.6M554.3 430.7h4.4M965.2 430.6h5.4M553.8 361.4h4.4M965 361.2h5.4M553.3 292.1h4.4M964.8 291.8h5.4M552.8 222.9h4.4M964.7 222.4h5.4M552.3 153.6h4.4M964.5 153h5.4M551.8 84.3h4.4M964.3 83.6h5.4" stroke="#7e7e7e" stroke-width="1.1" fill="none"/>
<text x="549.5" y="511.5" font-size="13" class="sa" fill="#505050" textLength="10" lengthAdjust="spacingAndGlyphs" stroke="#505050" stroke-width="0.1" stroke-linejoin="round">0</text>
<text x="595.8" y="511.5" font-size="13" class="sa" fill="#505050" textLength="20.5" lengthAdjust="spacingAndGlyphs" stroke="#505050" stroke-width="0.1" stroke-linejoin="round">64</text>
<text x="642" y="511.5" font-size="13" class="sa" fill="#505050" textLength="31" lengthAdjust="spacingAndGlyphs" stroke="#505050" stroke-width="0.1" stroke-linejoin="round">128</text>
<text x="693.5" y="511.5" font-size="13" class="sa" fill="#505050" textLength="31" lengthAdjust="spacingAndGlyphs" stroke="#505050" stroke-width="0.1" stroke-linejoin="round">192</text>
<text x="745" y="511.5" font-size="13" class="sa" fill="#505050" textLength="31" lengthAdjust="spacingAndGlyphs" stroke="#505050" stroke-width="0.1" stroke-linejoin="round">256</text>
<text x="796.6" y="511.5" font-size="13" class="sa" fill="#505050" textLength="31" lengthAdjust="spacingAndGlyphs" stroke="#505050" stroke-width="0.1" stroke-linejoin="round">320</text>
<text x="848.1" y="511.5" font-size="13" class="sa" fill="#505050" textLength="31" lengthAdjust="spacingAndGlyphs" stroke="#505050" stroke-width="0.1" stroke-linejoin="round">384</text>
<text x="899.6" y="511.5" font-size="13" class="sa" fill="#505050" textLength="31" lengthAdjust="spacingAndGlyphs" stroke="#505050" stroke-width="0.1" stroke-linejoin="round">448</text>
<text x="941.1" y="511.5" font-size="13" class="sa" fill="#505050" textLength="28.5" lengthAdjust="spacingAndGlyphs" stroke="#505050" stroke-width="0.1" stroke-linejoin="round">512</text>
<text x="544.1" y="499.7" font-size="11.3" class="sa" fill="#505050" textLength="9.9" lengthAdjust="spacingAndGlyphs" stroke="#505050" stroke-width="0.1" stroke-linejoin="round">0</text>
<text x="543.6" y="430.4" font-size="11.3" class="sa" fill="#505050" textLength="9.9" lengthAdjust="spacingAndGlyphs" stroke="#505050" stroke-width="0.1" stroke-linejoin="round">8</text>
<text x="532.4" y="361.1" font-size="11.3" class="sa" fill="#505050" textLength="20.6" lengthAdjust="spacingAndGlyphs" stroke="#505050" stroke-width="0.1" stroke-linejoin="round">16</text>
<text x="531.9" y="291.8" font-size="11.3" class="sa" fill="#505050" textLength="20.6" lengthAdjust="spacingAndGlyphs" stroke="#505050" stroke-width="0.1" stroke-linejoin="round">24</text>
<text x="531.4" y="222.6" font-size="11.3" class="sa" fill="#505050" textLength="20.6" lengthAdjust="spacingAndGlyphs" stroke="#505050" stroke-width="0.1" stroke-linejoin="round">32</text>
<text x="530.9" y="153.3" font-size="11.3" class="sa" fill="#505050" textLength="20.6" lengthAdjust="spacingAndGlyphs" stroke="#505050" stroke-width="0.1" stroke-linejoin="round">40</text>
<text x="530.4" y="93.3" font-size="11.3" class="sa" fill="#505050" textLength="20.6" lengthAdjust="spacingAndGlyphs" stroke="#505050" stroke-width="0.1" stroke-linejoin="round">48</text>
<text x="511.2" y="402" font-size="17.5" class="n" fill="#505050" transform="rotate(-90 511.2 402)" stroke="#505050" stroke-width="0.12" stroke-linejoin="round"><tspan x="511.2" textLength="60.5" lengthAdjust="spacingAndGlyphs">Cell</tspan> <tspan x="593.5" textLength="117" lengthAdjust="spacingAndGlyphs">Number</tspan></text>
<text x="667.3" y="536.3" font-size="22" class="n" fill="#505050" stroke="#505050" stroke-width="0.12" stroke-linejoin="round"><tspan x="667.3" textLength="67.4" lengthAdjust="spacingAndGlyphs">DNA</tspan> <tspan x="753.3" textLength="105.5" lengthAdjust="spacingAndGlyphs">Content</tspan></text>
</g>
<text x="594.5" y="126.5" font-size="47" font-style="italic" textLength="21" lengthAdjust="spacingAndGlyphs" stroke="#000" stroke-width="0.6" stroke-linejoin="round">b</text>
<text x="753.6" y="185.1" font-size="26.8" textLength="165.8" lengthAdjust="spacingAndGlyphs" stroke="#000" stroke-width="0.12" stroke-linejoin="round">G0/G1: 43.3%</text>
<text x="757.6" y="229.8" font-size="26.8" textLength="161.7" lengthAdjust="spacingAndGlyphs" stroke="#000" stroke-width="0.12" stroke-linejoin="round">G2<tspan dx="2.6">/M: 23.5%</tspan></text>
<text x="797.6" y="274.2" font-size="26.8" textLength="102.2" lengthAdjust="spacingAndGlyphs" stroke="#000" stroke-width="0.12" stroke-linejoin="round">S: 33.0%</text>
<g>
<clipPath id="csc"><path d="M1143.7 495.1L1144.7 493.2L1145.7 491.3L1146.7 489.3L1147.7 487.2L1148.7 485L1149.7 482.8L1150.7 480.5L1151.7 478L1152.7 475.4L1153.7 472.6L1154.7 469.8L1155.7 467L1156.7 464.3L1157.7 461.6L1158.7 459.1L1159.7 456.5L1160.7 453.9L1161.7 451.3L1162.7 448.8L1163.7 446.6L1164.7 444.5L1165.7 442.8L1166.7 441.3L1167.7 439.8L1168.7 438.4L1169.7 437.1L1170.7 436L1171.7 435.1L1172.7 434.5L1173.7 434.1L1174.7 433.8L1175.7 433.5L1176.7 433.2L1177.7 433L1178.7 432.7L1179.7 432.6L1180.7 432.4L1181.7 432.4L1182.7 432.3L1183.7 432.3L1184.7 432.3L1185.7 432.3L1186.7 432.3L1187.7 432.3L1188.7 432.4L1189.7 432.4L1190.7 432.4L1191.7 432.4L1192.7 432.5L1193.7 432.5L1194.7 432.7L1195.7 433L1196.7 433.4L1197.7 434L1198.7 434.6L1199.7 435.2L1200.7 436L1201.7 436.7L1202.7 437.5L1203.7 438.3L1204.7 439.3L1205.7 440.5L1206.7 441.9L1207.7 443.4L1208.7 445.1L1209.7 446.8L1210.7 448.5L1211.7 450.3L1212.7 452.1L1213.7 453.8L1214.7 455.7L1215.7 457.7L1216.7 459.7L1217.7 461.9L1218.7 464L1219.7 466.2L1220.7 468.3L1221.7 470.3L1222.7 472.1L1223.7 473.9L1224.7 475.6L1225.7 477.2L1226.7 478.8L1227.7 480.4L1228.7 481.9L1229.7 483.3L1230.7 484.7L1231.7 486.1L1232.7 487.4L1233.7 488.6L1234.7 489.8L1235.7 491L1236.7 492.3L1237.7 493.4L1238.7 494.4L1239.7 495.1L1240.7 495.6L1241.7 495.9L1242.7 496.2L1243.7 496.4L1244.7 496.6L1245.7 496.8L1246.7 496.9L1247.7 497L1247.7 497.9 L1143.7 497.9Z"/></clipPath>
<path d="M1137.7 497.2L1138.7 496.8L1139.7 496.2L1140.7 495.4L1141.7 494.2L1142.7 492.7L1143.7 490.7L1144.7 488.1L1145.7 484.8L1146.7 480.9L1147.7 476.3L1148.7 471.1L1149.7 465.4L1150.7 459.4L1151.7 453.3L1152.7 447.4L1153.7 442.1L1154.7 437.5L1155.7 434.1L1156.7 432L1157.7 431.4L1158.7 432.3L1159.7 434.7L1160.7 438.3L1161.7 443.1L1162.7 448.6L1163.7 454.5L1164.7 460.6L1165.7 466.6L1166.7 472.2L1167.7 477.3L1168.7 481.7L1169.7 485.5L1170.7 488.6L1171.7 491.1L1172.7 493L1173.7 494.5L1174.7 495.6L1175.7 496.4L1176.7 496.9L1177.7 497.3L1177.7 497.9 L1137.7 497.9Z" fill="url(#stip)"/>
<path d="M1185.7 496.3L1186.7 492.5L1187.7 488.5L1188.7 484.4L1189.7 480.2L1190.7 475.8L1191.7 471.4L1192.7 466.9L1193.7 462.5L1194.7 458.2L1195.7 453.6L1196.7 448.6L1197.7 443L1198.7 436.5L1199.7 428.7L1200.7 418.5L1201.7 406.7L1202.7 393.9L1203.7 380.1L1204.7 364.4L1205.7 348.4L1206.7 331.6L1207.7 315.8L1208.7 304.1L1209.7 294.3L1210.7 286.1L1211.7 279.5L1212.7 274L1213.7 269.3L1214.7 265.2L1215.7 261.6L1216.7 259.1L1217.7 256.9L1218.7 256.3L1219.7 257.7L1220.7 260L1221.7 263L1222.7 266.8L1223.7 271L1224.7 275.9L1225.7 281.9L1226.7 290.4L1227.7 302.2L1228.7 314.3L1229.7 326.1L1230.7 338.2L1231.7 350.9L1232.7 365L1233.7 379.6L1234.7 392.3L1235.7 402.7L1236.7 412.2L1237.7 422L1238.7 432.6L1239.7 442.7L1240.7 451.2L1241.7 459.5L1242.7 467.2L1243.7 473.9L1244.7 479.3L1245.7 483L1246.7 486.3L1247.7 489.3L1248.7 492L1249.7 494.3L1250.7 496L1251.7 497.1L1251.7 497.9 L1185.7 497.9Z" fill="url(#stip)"/>
<path d="M1143.7 495.1L1144.7 493.2L1145.7 491.3L1146.7 489.3L1147.7 487.2L1148.7 485L1149.7 482.8L1150.7 480.5L1151.7 478L1152.7 475.4L1153.7 472.6L1154.7 469.8L1155.7 467L1156.7 464.3L1157.7 461.6L1158.7 459.1L1159.7 456.5L1160.7 453.9L1161.7 451.3L1162.7 448.8L1163.7 446.6L1164.7 444.5L1165.7 442.8L1166.7 441.3L1167.7 439.8L1168.7 438.4L1169.7 437.1L1170.7 436L1171.7 435.1L1172.7 434.5L1173.7 434.1L1174.7 433.8L1175.7 433.5L1176.7 433.2L1177.7 433L1178.7 432.7L1179.7 432.6L1180.7 432.4L1181.7 432.4L1182.7 432.3L1183.7 432.3L1184.7 432.3L1185.7 432.3L1186.7 432.3L1187.7 432.3L1188.7 432.4L1189.7 432.4L1190.7 432.4L1191.7 432.4L1192.7 432.5L1193.7 432.5L1194.7 432.7L1195.7 433L1196.7 433.4L1197.7 434L1198.7 434.6L1199.7 435.2L1200.7 436L1201.7 436.7L1202.7 437.5L1203.7 438.3L1204.7 439.3L1205.7 440.5L1206.7 441.9L1207.7 443.4L1208.7 445.1L1209.7 446.8L1210.7 448.5L1211.7 450.3L1212.7 452.1L1213.7 453.8L1214.7 455.7L1215.7 457.7L1216.7 459.7L1217.7 461.9L1218.7 464L1219.7 466.2L1220.7 468.3L1221.7 470.3L1222.7 472.1L1223.7 473.9L1224.7 475.6L1225.7 477.2L1226.7 478.8L1227.7 480.4L1228.7 481.9L1229.7 483.3L1230.7 484.7L1231.7 486.1L1232.7 487.4L1233.7 488.6L1234.7 489.8L1235.7 491L1236.7 492.3L1237.7 493.4L1238.7 494.4L1239.7 495.1L1240.7 495.6L1241.7 495.9L1242.7 496.2L1243.7 496.4L1244.7 496.6L1245.7 496.8L1246.7 496.9L1247.7 497L1247.7 497.9 L1143.7 497.9Z" fill="url(#hat)"/>
<g clip-path="url(#csc)"><path d="M1137.7 497.2L1138.7 496.8L1139.7 496.2L1140.7 495.4L1141.7 494.2L1142.7 492.7L1143.7 490.7L1144.7 488.1L1145.7 484.8L1146.7 480.9L1147.7 476.3L1148.7 471.1L1149.7 465.4L1150.7 459.4L1151.7 453.3L1152.7 447.4L1153.7 442.1L1154.7 437.5L1155.7 434.1L1156.7 432L1157.7 431.4L1158.7 432.3L1159.7 434.7L1160.7 438.3L1161.7 443.1L1162.7 448.6L1163.7 454.5L1164.7 460.6L1165.7 466.6L1166.7 472.2L1167.7 477.3L1168.7 481.7L1169.7 485.5L1170.7 488.6L1171.7 491.1L1172.7 493L1173.7 494.5L1174.7 495.6L1175.7 496.4L1176.7 496.9L1177.7 497.3L1177.7 497.9 L1137.7 497.9Z" fill="url(#xhat)"/><path d="M1185.7 496.3L1186.7 492.5L1187.7 488.5L1188.7 484.4L1189.7 480.2L1190.7 475.8L1191.7 471.4L1192.7 466.9L1193.7 462.5L1194.7 458.2L1195.7 453.6L1196.7 448.6L1197.7 443L1198.7 436.5L1199.7 428.7L1200.7 418.5L1201.7 406.7L1202.7 393.9L1203.7 380.1L1204.7 364.4L1205.7 348.4L1206.7 331.6L1207.7 315.8L1208.7 304.1L1209.7 294.3L1210.7 286.1L1211.7 279.5L1212.7 274L1213.7 269.3L1214.7 265.2L1215.7 261.6L1216.7 259.1L1217.7 256.9L1218.7 256.3L1219.7 257.7L1220.7 260L1221.7 263L1222.7 266.8L1223.7 271L1224.7 275.9L1225.7 281.9L1226.7 290.4L1227.7 302.2L1228.7 314.3L1229.7 326.1L1230.7 338.2L1231.7 350.9L1232.7 365L1233.7 379.6L1234.7 392.3L1235.7 402.7L1236.7 412.2L1237.7 422L1238.7 432.6L1239.7 442.7L1240.7 451.2L1241.7 459.5L1242.7 467.2L1243.7 473.9L1244.7 479.3L1245.7 483L1246.7 486.3L1247.7 489.3L1248.7 492L1249.7 494.3L1250.7 496L1251.7 497.1L1251.7 497.9 L1185.7 497.9Z" fill="url(#xhat)"/></g>
<path d="M1137.7 497.2L1138.7 496.8L1139.7 496.2L1140.7 495.4L1141.7 494.2L1142.7 492.7L1143.7 490.7L1144.7 488.1L1145.7 484.8L1146.7 480.9L1147.7 476.3L1148.7 471.1L1149.7 465.4L1150.7 459.4L1151.7 453.3L1152.7 447.4L1153.7 442.1L1154.7 437.5L1155.7 434.1L1156.7 432L1157.7 431.4L1158.7 432.3L1159.7 434.7L1160.7 438.3L1161.7 443.1L1162.7 448.6L1163.7 454.5L1164.7 460.6L1165.7 466.6L1166.7 472.2L1167.7 477.3L1168.7 481.7L1169.7 485.5L1170.7 488.6L1171.7 491.1L1172.7 493L1173.7 494.5L1174.7 495.6L1175.7 496.4L1176.7 496.9L1177.7 497.3" fill="none" stroke="#444" stroke-width="1.1"/>
<path d="M1185.7 496.3L1186.7 492.5L1187.7 488.5L1188.7 484.4L1189.7 480.2L1190.7 475.8L1191.7 471.4L1192.7 466.9L1193.7 462.5L1194.7 458.2L1195.7 453.6L1196.7 448.6L1197.7 443L1198.7 436.5L1199.7 428.7L1200.7 418.5L1201.7 406.7L1202.7 393.9L1203.7 380.1L1204.7 364.4L1205.7 348.4L1206.7 331.6L1207.7 315.8L1208.7 304.1L1209.7 294.3L1210.7 286.1L1211.7 279.5L1212.7 274L1213.7 269.3L1214.7 265.2L1215.7 261.6L1216.7 259.1L1217.7 256.9L1218.7 256.3L1219.7 257.7L1220.7 260L1221.7 263L1222.7 266.8L1223.7 271L1224.7 275.9L1225.7 281.9L1226.7 290.4L1227.7 302.2L1228.7 314.3L1229.7 326.1L1230.7 338.2L1231.7 350.9L1232.7 365L1233.7 379.6L1234.7 392.3L1235.7 402.7L1236.7 412.2L1237.7 422L1238.7 432.6L1239.7 442.7L1240.7 451.2L1241.7 459.5L1242.7 467.2L1243.7 473.9L1244.7 479.3L1245.7 483L1246.7 486.3L1247.7 489.3L1248.7 492L1249.7 494.3L1250.7 496L1251.7 497.1" fill="none" stroke="#444" stroke-width="1.1"/>
<path d="M1143.7 495.1L1144.7 493.2L1145.7 491.3L1146.7 489.3L1147.7 487.2L1148.7 485L1149.7 482.8L1150.7 480.5L1151.7 478L1152.7 475.4L1153.7 472.6L1154.7 469.8L1155.7 467L1156.7 464.3L1157.7 461.6L1158.7 459.1L1159.7 456.5L1160.7 453.9L1161.7 451.3L1162.7 448.8L1163.7 446.6L1164.7 444.5L1165.7 442.8L1166.7 441.3L1167.7 439.8L1168.7 438.4L1169.7 437.1L1170.7 436L1171.7 435.1L1172.7 434.5L1173.7 434.1L1174.7 433.8L1175.7 433.5L1176.7 433.2L1177.7 433L1178.7 432.7L1179.7 432.6L1180.7 432.4L1181.7 432.4L1182.7 432.3L1183.7 432.3L1184.7 432.3L1185.7 432.3L1186.7 432.3L1187.7 432.3L1188.7 432.4L1189.7 432.4L1190.7 432.4L1191.7 432.4L1192.7 432.5L1193.7 432.5L1194.7 432.7L1195.7 433L1196.7 433.4L1197.7 434L1198.7 434.6L1199.7 435.2L1200.7 436L1201.7 436.7L1202.7 437.5L1203.7 438.3L1204.7 439.3L1205.7 440.5L1206.7 441.9L1207.7 443.4L1208.7 445.1L1209.7 446.8L1210.7 448.5L1211.7 450.3L1212.7 452.1L1213.7 453.8L1214.7 455.7L1215.7 457.7L1216.7 459.7L1217.7 461.9L1218.7 464L1219.7 466.2L1220.7 468.3L1221.7 470.3L1222.7 472.1L1223.7 473.9L1224.7 475.6L1225.7 477.2L1226.7 478.8L1227.7 480.4L1228.7 481.9L1229.7 483.3L1230.7 484.7L1231.7 486.1L1232.7 487.4L1233.7 488.6L1234.7 489.8L1235.7 491L1236.7 492.3L1237.7 493.4L1238.7 494.4L1239.7 495.1L1240.7 495.6L1241.7 495.9L1242.7 496.2L1243.7 496.4L1244.7 496.6L1245.7 496.8L1246.7 496.9L1247.7 497" fill="none" stroke="#444" stroke-width="1.1"/>
<path d="M1137.1 496.8L1138.1 496.2L1139.1 495.4L1140.1 494.2L1141.1 492.7L1142.1 487.8L1143.1 483.4L1144.1 478.2L1145.1 472.3L1146.1 465.6L1147.1 458.2L1148.1 450.3L1149.1 442L1150.1 433.4L1151.1 424.9L1152.1 416.8L1153.1 409.4L1154.1 403.2L1155.1 398.4L1156.1 395.1L1157.1 393.5L1158.1 393.3L1159.1 394.3L1160.1 396.5L1161.1 399.5L1162.1 403.2L1163.1 407.3L1164.1 411.5L1165.1 415.6L1166.1 419.2L1167.1 422.2L1168.1 424.7L1169.1 426.7L1170.1 428.3L1171.1 429.6L1172.1 430.7L1173.1 431.4L1174.1 431.9L1175.1 432.2L1176.1 432.3L1177.1 432.3L1178.1 432.3L1179.1 432.3L1180.1 432.3L1181.1 432.3L1182.1 432.3L1183.1 432.3L1184.1 430.7L1185.1 426.9L1186.1 423L1187.1 418.9L1188.1 414.7L1189.1 410.4L1190.1 405.9L1191.1 401.4L1192.1 397.2L1193.1 393L1194.1 388.8L1195.1 384.4L1196.1 379.5L1197.1 373.8L1198.1 366.8L1199.1 357.5L1200.1 346.6L1201.1 334.8L1202.1 322L1203.2 307.5L1204.2 292.9L1205.2 277.5L1206.3 263.5L1207.3 253.5L1208.4 245.6L1209.5 239.3L1210.6 234.6L1211.8 231L1213 228.1L1214.2 226L1215.4 224.6L1216.7 224.2L1218 224.4L1219.2 225.8L1220.4 229.3L1221.6 233.5L1222.8 238.4L1223.9 243.9L1225 249.8L1226.1 256.2L1227.1 263.7L1228.2 273.7L1229.2 286.9L1230.2 300.3L1231.3 313.4L1232.3 326.7L1233.3 340.6L1234.3 355.8L1235.3 371.4L1236.3 385.1L1237.3 396.6L1238.3 407.2L1239.3 417.9L1240.3 429.3L1241.3 439.9L1242.3 448.9L1243.3 457.5L1244.3 465.5L1245.3 472.5L1246.3 478.1L1247.3 481.9L1248.3 485.3L1249.3 488.4L1250.3 492L1251.3 494.3L1252.3 496L1253.3 497.1" fill="none" stroke="#505050" stroke-width="1.15" stroke-dasharray="5.5 3"/>
<path d="M1207.2 306.9h2.1v2h-2.1zM1165.3 312.6h2.2v2.1h-2.2zM1195.9 348.4h2.2v2.1h-2.2zM1234.3 354.6h2.2v2.1h-2.2zM1168.9 360.1h2.2v2.1h-2.2zM1152.5 371.9h2.2v2.1h-2.2zM1198.4 390h2.2v2.1h-2.2zM1174.6 395.8h2.2v2.1h-2.2zM1234.9 396.2h2.1v2h-2.1zM1196.6 401.9h2.2v2.1h-2.2zM1161.9 413.6h2.2v2.1h-2.2zM1114.3 443h2.2v2.1h-2.2zM1292.5 450.1h2.1v2h-2.1zM1318.9 450.2h2.2v2.1h-2.2zM1296.2 456h2.2v2.1h-2.2zM1120.6 460.8h2.2v2.1h-2.2zM1125.6 460.9h2.2v2.1h-2.2zM1238.5 467.6h2.1v2h-2.1zM1248.5 467.6h2.1v2h-2.1zM1256 467.7h2.1v2h-2.1zM1263.5 467.7h2.1v2h-2.1zM1275 467.8h2.1v2h-2.1zM1280 467.8h2.1v2h-2.1zM1320.2 468.1h2.1v2h-2.1zM1325.2 468.1h2.1v2h-2.1zM1332.7 468.2h2.1v2h-2.1zM1335.2 468.2h2.1v2h-2.1zM1346.4 468.2h2.2v2.1h-2.2zM1364 468.4h2.1v2h-2.1zM1369 468.4h2.1v2h-2.1zM1385.3 468.5h2.2v2.1h-2.2zM1109.4 472.7h2.1v2h-2.1zM1119.4 472.7h2.1v2h-2.1zM1129.4 472.8h2.1v2h-2.1zM1251 473.6h2.1v2h-2.1zM1256 473.6h2.1v2h-2.1zM1320 474h2.1v2h-2.1zM1345 474.2h2.1v2h-2.1zM1360.2 474.3h2.2v2.1h-2.2zM1377.9 474.4h2.1v2h-2.1zM1382.9 474.4h2.1v2h-2.1zM1385.4 474.5h2.1v2h-2.1zM1127 478.7h2.1v2h-2.1zM1272.5 479.7h2.1v2h-2.1zM1310 479.9h2.1v2h-2.1zM1341.5 480.1h2.1v2h-2.1zM1359 480.2h2.1v2h-2.1zM1375.3 480.3h2.2v2.1h-2.2zM1381.5 480.3h2.2v2.1h-2.2zM1391.6 480.4h2.2v2.1h-2.2zM1400.5 480.5h2.1v2h-2.1zM1427.9 480.6h2.2v2.1h-2.2zM1104.4 484.5h2.1v2h-2.1zM1110.6 484.5h2.2v2.1h-2.2zM1129.5 484.7h2.1v2h-2.1zM1247.4 485.5h2.1v2h-2.1zM1347.7 486.1h2.2v2.1h-2.2zM1390.5 486.4h2.1v2h-2.1zM1398 486.4h2.1v2h-2.1zM1403 486.5h2.1v2h-2.1zM1303.7 491.7h2.2v2.1h-2.2zM1357.8 492.1h2.1v2h-2.1zM1360.2 492.1h2.1v2h-2.1zM1362.8 492.2h2.1v2h-2.1zM1397.9 492.4h2.1v2h-2.1zM1410.5 492.5h2.1v2h-2.1zM1415.5 492.5h2.1v2h-2.1zM1220.2 105.4h2.2v2.1h-2.2zM1215.2 187.6h2.2v2.1h-2.2zM1219.2 199.6h2.2v2.1h-2.2zM1224.7 259.9h2.2v2.1h-2.2zM1223.5 277.4h2.2v2.1h-2.2z" fill="#858585"/>
<path d="M1228.5 289.2h2.2v2.1h-2.2zM1202.2 306.9h2.1v2h-2.1zM1229.7 318.9h2.2v2.1h-2.2zM1230.9 348.6h2.2v2.1h-2.2zM1184.6 360.2h2.2v2.1h-2.2zM1194.6 360.3h2.2v2.1h-2.2zM1157 383.9h2.1v2h-2.1zM1159.5 383.9h2.1v2h-2.1zM1172 384h2.1v2h-2.1zM1174.5 384h2.1v2h-2.1zM1177 384h2.1v2h-2.1zM1159.5 389.8h2.2v2.1h-2.2zM1166.9 389.8h2.2v2.1h-2.2zM1161.9 395.7h2.2v2.1h-2.2zM1232.4 396.2h2.1v2h-2.1zM1239.9 396.3h2.1v2h-2.1zM1153.2 401.6h2.2v2.1h-2.2zM1170.8 401.7h2.2v2.1h-2.2zM1178.9 401.8h2.2v2.1h-2.2zM1163.3 407.6h2.2v2.1h-2.2zM1234.8 408.1h2.2v2.1h-2.2zM1197.1 413.8h2.2v2.1h-2.2zM1148.2 419.4h2.2v2.1h-2.2zM1171.9 419.6h2.2v2.1h-2.2zM1235.9 420h2.2v2.1h-2.2zM1245.9 431.9h2.2v2.1h-2.2zM1143.2 437.3h2.1v2h-2.1zM1145.8 437.3h2.1v2h-2.1zM1242.3 437.8h2.2v2.1h-2.2zM1322.6 438.3h2.2v2.1h-2.2zM1138.9 443.1h2.2v2.1h-2.2zM1106.8 448.9h2.2v2.1h-2.2zM1119.4 448.9h2.2v2.1h-2.2zM1244.8 449.7h2.2v2.1h-2.2zM1295 450.1h2.1v2h-2.1zM1304.5 450.1h2.2v2.1h-2.2zM1101.8 454.8h2.2v2.1h-2.2zM1112.3 454.8h2.2v2.1h-2.2zM1126.9 454.9h2.2v2.1h-2.2zM1240.9 455.7h2.2v2.1h-2.2zM1249.9 455.7h2.2v2.1h-2.2zM1302.5 456h2.2v2.1h-2.2zM1133.2 460.9h2.2v2.1h-2.2zM1254.9 461.7h2.2v2.1h-2.2zM1277.4 461.8h2.2v2.1h-2.2zM1289.9 461.9h2.2v2.1h-2.2zM1296.2 462h2.2v2.1h-2.2zM1331.5 462.2h2.1v2h-2.1zM1334 462.2h2.1v2h-2.1zM1344.7 462.3h2.2v2.1h-2.2zM1097.9 466.6h2.2v2.1h-2.2zM1104.3 466.7h2.2v2.1h-2.2zM1114.4 466.8h2.1v2h-2.1zM1116.9 466.8h2.1v2h-2.1zM1119.4 466.8h2.1v2h-2.1zM1130.7 466.9h2.1v2h-2.1zM1133.2 466.9h2.1v2h-2.1zM1141.9 466.9h2.2v2.1h-2.2zM1241 467.6h2.1v2h-2.1zM1243.5 467.6h2.1v2h-2.1zM1246 467.6h2.1v2h-2.1zM1251 467.7h2.1v2h-2.1zM1253.5 467.7h2.1v2h-2.1zM1258.5 467.7h2.1v2h-2.1zM1261 467.7h2.1v2h-2.1zM1277.5 467.8h2.1v2h-2.1zM1289.9 467.9h2.2v2.1h-2.2zM1317.7 468.1h2.1v2h-2.1zM1322.7 468.1h2.1v2h-2.1zM1327.7 468.1h2.1v2h-2.1zM1366.5 468.4h2.1v2h-2.1zM1412.9 468.6h2.2v2.1h-2.2zM1104.3 472.6h2.2v2.1h-2.2zM1111.9 472.7h2.1v2h-2.1zM1114.4 472.7h2.1v2h-2.1zM1116.9 472.7h2.1v2h-2.1zM1121.9 472.8h2.1v2h-2.1zM1124.4 472.8h2.1v2h-2.1zM1126.9 472.8h2.1v2h-2.1zM1131.9 472.8h2.1v2h-2.1zM1139.4 472.8h2.2v2.1h-2.2zM1274.9 473.7h2.2v2.1h-2.2zM1287.5 473.8h2.1v2h-2.1zM1290 473.8h2.1v2h-2.1zM1295 473.9h2.1v2h-2.1zM1297.5 473.9h2.1v2h-2.1zM1300 473.9h2.1v2h-2.1zM1302.5 473.9h2.1v2h-2.1zM1305 473.9h2.1v2h-2.1zM1307.5 474h2.1v2h-2.1zM1310 474h2.1v2h-2.1zM1322.5 474.1h2.1v2h-2.1zM1325 474.1h2.1v2h-2.1zM1335 474.1h2.1v2h-2.1zM1340 474.2h2.1v2h-2.1zM1342.5 474.2h2.1v2h-2.1zM1347.5 474.2h2.1v2h-2.1zM1350 474.2h2.1v2h-2.1zM1352.5 474.3h2.1v2h-2.1zM1380.4 474.4h2.1v2h-2.1zM1405.4 474.5h2.2v2.1h-2.2zM1419.2 474.6h2.2v2.1h-2.2zM1103 478.6h2.1v2h-2.1zM1105.5 478.6h2.1v2h-2.1zM1108 478.6h2.1v2h-2.1zM1116.9 478.6h2.2v2.1h-2.2zM1124.5 478.7h2.1v2h-2.1zM1129.5 478.8h2.1v2h-2.1zM1260 479.6h2.1v2h-2.1zM1262.5 479.6h2.1v2h-2.1zM1265 479.6h2.1v2h-2.1zM1267.5 479.6h2.1v2h-2.1zM1275 479.7h2.1v2h-2.1zM1281 479.7h2.1v2h-2.1zM1286 479.8h2.1v2h-2.1zM1288.5 479.8h2.1v2h-2.1zM1292.5 479.8h2.1v2h-2.1zM1297.5 479.8h2.1v2h-2.1zM1300 479.9h2.1v2h-2.1zM1302.5 479.9h2.1v2h-2.1zM1305 479.9h2.1v2h-2.1zM1307.5 479.9h2.1v2h-2.1zM1312.5 479.9h2.1v2h-2.1zM1315 480h2.1v2h-2.1zM1317.5 480h2.1v2h-2.1zM1329.9 480h2.2v2.1h-2.2zM1339 480.1h2.1v2h-2.1zM1351.5 480.2h2.1v2h-2.1zM1354 480.2h2.1v2h-2.1zM1356.5 480.2h2.1v2h-2.1zM1361.5 480.3h2.1v2h-2.1zM1366.5 480.3h2.1v2h-2.1zM1403 480.5h2.1v2h-2.1zM1408 480.6h2.1v2h-2.1zM1421.7 480.6h2.2v2.1h-2.2zM1099.4 484.5h2.1v2h-2.1zM1101.9 484.5h2.1v2h-2.1zM1119.5 484.6h2.1v2h-2.1zM1124.5 484.7h2.1v2h-2.1zM1127 484.7h2.1v2h-2.1zM1257.4 485.5h2.1v2h-2.1zM1259.9 485.5h2.1v2h-2.1zM1262.4 485.6h2.1v2h-2.1zM1294.9 485.7h2.2v2.1h-2.2zM1331.5 486h2.1v2h-2.1zM1334 486h2.1v2h-2.1zM1339 486.1h2.1v2h-2.1zM1362.8 486.2h2.1v2h-2.1zM1367.8 486.2h2.1v2h-2.1zM1372.8 486.3h2.1v2h-2.1zM1375.2 486.3h2.1v2h-2.1zM1377.8 486.3h2.1v2h-2.1zM1380.2 486.3h2.1v2h-2.1zM1388 486.4h2.1v2h-2.1zM1393 486.4h2.1v2h-2.1zM1408 486.5h2.1v2h-2.1zM1410.5 486.5h2.1v2h-2.1zM1413 486.5h2.1v2h-2.1zM1415.5 486.5h2.1v2h-2.1zM1418 486.6h2.1v2h-2.1zM1420.5 486.6h2.1v2h-2.1zM1423 486.6h2.1v2h-2.1zM1425.5 486.6h2.1v2h-2.1zM1428 486.6h2.1v2h-2.1zM1430.5 486.6h2.1v2h-2.1zM1097.9 490.4h2.2v2.1h-2.2zM1109.3 490.5h2.2v2.1h-2.2zM1257.4 491.5h2.1v2h-2.1zM1277.4 491.5h2.2v2.1h-2.2zM1287.4 491.6h2.2v2.1h-2.2zM1309.9 491.8h2.2v2.1h-2.2zM1327.6 491.9h2.2v2.1h-2.2zM1341.4 492h2.2v2.1h-2.2zM1347.8 492.1h2.1v2h-2.1zM1350.2 492.1h2.1v2h-2.1zM1355.2 492.1h2.1v2h-2.1zM1370.2 492.2h2.1v2h-2.1zM1375.2 492.2h2.1v2h-2.1zM1380.4 492.3h2.1v2h-2.1zM1382.9 492.3h2.1v2h-2.1zM1385.4 492.3h2.1v2h-2.1zM1387.9 492.3h2.1v2h-2.1zM1390.4 492.3h2.1v2h-2.1zM1395.4 492.4h2.1v2h-2.1zM1400.4 492.4h2.1v2h-2.1zM1418 492.5h2.1v2h-2.1zM1420.5 492.5h2.1v2h-2.1zM1426.7 492.5h2.2v2.1h-2.2zM1210.9 170.8h2.2v2.1h-2.2zM1219.2 177h2.2v2.1h-2.2zM1214.2 199.6h2.2v2.1h-2.2zM1222.7 206.4h2.2v2.1h-2.2zM1208.4 217.9h2.2v2.1h-2.2zM1213.4 217.9h2.2v2.1h-2.2zM1224.2 217.9h2.2v2.1h-2.2zM1203.4 277.4h2.2v2.1h-2.2z" fill="#555"/>
<path d="M1196.7 371.8h3v2.8h-3zM1191.2 383.7h3v2.8h-3zM1181.7 407.4h3v2.8h-3zM1174.2 413.3h3v2.8h-3zM1140.3 448.7h3v2.8h-3zM1136.5 454.6h3v2.8h-3zM1268.2 473.3h3v2.8h-3zM1270.7 485.2h3v2.8h-3zM1285.8 485.3h3v2.8h-3z" fill="#262626"/>
<path d="M1058 81.4L1471.5 83.5L1470.9 499.8L1056.9 497.1Z" fill="none" stroke="#7e7e7e" stroke-width="1.25"/>
<path d="M1433.6 500L1472.9 500.2" stroke="#3f3f3f" stroke-width="2.2"/>
<path d="M1263.9 498.8L1433.6 499.9" stroke="#5a5a5a" stroke-width="1.6" stroke-dasharray="3 2"/>
<path d="M1109.7 79.4v4.6M1108.7 494.8v2.6M1161.4 79.6v4.6M1160.4 495.2v2.6M1213.1 79.9v4.6M1212.2 495.5v2.6M1264.8 80.2v4.6M1263.9 495.9v2.6M1316.4 80.4v4.6M1315.7 496.2v2.6M1368.1 80.7v4.6M1367.4 496.5v2.6M1419.8 80.9v4.6M1419.2 496.9v2.6M1471.5 81.2v4.6M1470.9 497.2v2.6M1055.9 437.7h4.4M1468.3 440.3h5.4M1056 378.3h4.4M1468.4 380.9h5.4M1056.2 318.9h4.4M1468.5 321.4h5.4M1056.3 259.6h4.4M1468.5 261.9h5.4M1056.5 200.2h4.4M1468.6 202.4h5.4M1056.6 140.8h4.4M1468.7 143h5.4M1056.8 81.4h4.4M1468.8 83.5h5.4" stroke="#7e7e7e" stroke-width="1.1" fill="none"/>
<text x="1050.4" y="508.6" font-size="13" class="sa" fill="#505050" textLength="10" lengthAdjust="spacingAndGlyphs" stroke="#505050" stroke-width="0.1" stroke-linejoin="round">0</text>
<text x="1096.9" y="508.9" font-size="13" class="sa" fill="#505050" textLength="20.5" lengthAdjust="spacingAndGlyphs" stroke="#505050" stroke-width="0.1" stroke-linejoin="round">64</text>
<text x="1143.4" y="509.3" font-size="13" class="sa" fill="#505050" textLength="31" lengthAdjust="spacingAndGlyphs" stroke="#505050" stroke-width="0.1" stroke-linejoin="round">128</text>
<text x="1195.2" y="509.6" font-size="13" class="sa" fill="#505050" textLength="31" lengthAdjust="spacingAndGlyphs" stroke="#505050" stroke-width="0.1" stroke-linejoin="round">192</text>
<text x="1246.9" y="510" font-size="13" class="sa" fill="#505050" textLength="31" lengthAdjust="spacingAndGlyphs" stroke="#505050" stroke-width="0.1" stroke-linejoin="round">256</text>
<text x="1298.7" y="510.3" font-size="13" class="sa" fill="#505050" textLength="31" lengthAdjust="spacingAndGlyphs" stroke="#505050" stroke-width="0.1" stroke-linejoin="round">320</text>
<text x="1350.4" y="510.6" font-size="13" class="sa" fill="#505050" textLength="31" lengthAdjust="spacingAndGlyphs" stroke="#505050" stroke-width="0.1" stroke-linejoin="round">384</text>
<text x="1402.2" y="511" font-size="13" class="sa" fill="#505050" textLength="31" lengthAdjust="spacingAndGlyphs" stroke="#505050" stroke-width="0.1" stroke-linejoin="round">448</text>
<text x="1443.9" y="511.3" font-size="13" class="sa" fill="#505050" textLength="28.5" lengthAdjust="spacingAndGlyphs" stroke="#505050" stroke-width="0.1" stroke-linejoin="round">512</text>
<text x="1045" y="496.8" font-size="11.3" class="sa" fill="#505050" textLength="9.9" lengthAdjust="spacingAndGlyphs" stroke="#505050" stroke-width="0.1" stroke-linejoin="round">0</text>
<text x="1034.5" y="437.4" font-size="11.3" class="sa" fill="#505050" textLength="20.6" lengthAdjust="spacingAndGlyphs" stroke="#505050" stroke-width="0.1" stroke-linejoin="round">10</text>
<text x="1034.6" y="378" font-size="11.3" class="sa" fill="#505050" textLength="20.6" lengthAdjust="spacingAndGlyphs" stroke="#505050" stroke-width="0.1" stroke-linejoin="round">20</text>
<text x="1034.8" y="318.6" font-size="11.3" class="sa" fill="#505050" textLength="20.6" lengthAdjust="spacingAndGlyphs" stroke="#505050" stroke-width="0.1" stroke-linejoin="round">30</text>
<text x="1034.9" y="259.3" font-size="11.3" class="sa" fill="#505050" textLength="20.6" lengthAdjust="spacingAndGlyphs" stroke="#505050" stroke-width="0.1" stroke-linejoin="round">40</text>
<text x="1035.1" y="199.9" font-size="11.3" class="sa" fill="#505050" textLength="20.6" lengthAdjust="spacingAndGlyphs" stroke="#505050" stroke-width="0.1" stroke-linejoin="round">50</text>
<text x="1035.2" y="140.5" font-size="11.3" class="sa" fill="#505050" textLength="20.6" lengthAdjust="spacingAndGlyphs" stroke="#505050" stroke-width="0.1" stroke-linejoin="round">60</text>
<text x="1035.4" y="90.4" font-size="11.3" class="sa" fill="#505050" textLength="20.6" lengthAdjust="spacingAndGlyphs" stroke="#505050" stroke-width="0.1" stroke-linejoin="round">70</text>
<text x="1015" y="398" font-size="17.5" class="n" fill="#505050" transform="rotate(-90 1015 398)" stroke="#505050" stroke-width="0.12" stroke-linejoin="round"><tspan x="1015" textLength="60.5" lengthAdjust="spacingAndGlyphs">Cell</tspan> <tspan x="1097.3" textLength="117" lengthAdjust="spacingAndGlyphs">Number</tspan></text>
<text x="1168.3" y="534.8" font-size="22" class="n" fill="#505050" stroke="#505050" stroke-width="0.12" stroke-linejoin="round"><tspan x="1168.3" textLength="67.4" lengthAdjust="spacingAndGlyphs">DNA</tspan> <tspan x="1254.3" textLength="105.7" lengthAdjust="spacingAndGlyphs">Content</tspan></text>
</g>
<text x="1088.5" y="126.5" font-size="47" font-style="italic" textLength="20.5" lengthAdjust="spacingAndGlyphs" stroke="#000" stroke-width="0.6" stroke-linejoin="round">c</text>
<text x="1253" y="185.1" font-size="26.8" textLength="165" lengthAdjust="spacingAndGlyphs" stroke="#000" stroke-width="0.12" stroke-linejoin="round">G0/G1: 10.2%</text>
<text x="1257.6" y="229.8" font-size="26.8" textLength="160.4" lengthAdjust="spacingAndGlyphs" stroke="#000" stroke-width="0.12" stroke-linejoin="round">G2<tspan dx="2.6">/M: 58.4%</tspan></text>
<text x="1296.2" y="274.2" font-size="26.8" textLength="102.3" lengthAdjust="spacingAndGlyphs" stroke="#000" stroke-width="0.12" stroke-linejoin="round">S: 31.5%</text>
<g>
<clipPath id="csd"><path d="M1615.5 498.8L1616.5 498.7L1617.5 498.5L1618.5 498.2L1619.5 497.9L1620.5 497.5L1621.5 497L1622.5 496.5L1623.5 496L1624.5 495.4L1625.5 494.8L1626.5 494.2L1627.5 493.5L1628.5 492.9L1629.5 492.1L1630.5 491.2L1631.5 490.1L1632.5 489L1633.5 487.8L1634.5 486.5L1635.5 485.2L1636.5 483.8L1637.5 482.4L1638.5 481L1639.5 479.6L1640.5 478.2L1641.5 476.8L1642.5 475.3L1643.5 473.7L1644.5 472.1L1645.5 470.4L1646.5 468.7L1647.5 467L1648.5 465.3L1649.5 463.6L1650.5 462L1651.5 460.4L1652.5 458.8L1653.5 457.4L1654.5 455.8L1655.5 454.3L1656.5 452.8L1657.5 451.3L1658.5 449.8L1659.5 448.4L1660.5 447.1L1661.5 445.9L1662.5 444.9L1663.5 443.9L1664.5 443L1665.5 442.1L1666.5 441.3L1667.5 440.5L1668.5 439.9L1669.5 439.5L1670.5 439.3L1671.5 439.3L1672.5 439.4L1673.5 439.4L1674.5 439.5L1675.5 439.7L1676.5 439.8L1677.5 440L1678.5 440.2L1679.5 440.4L1680.5 440.6L1681.5 440.8L1682.5 441.2L1683.5 441.7L1684.5 442.3L1685.5 443L1686.5 443.7L1687.5 444.4L1688.5 445.1L1689.5 445.9L1690.5 446.7L1691.5 447.4L1692.5 448.2L1693.5 449L1694.5 449.8L1695.5 450.7L1696.5 451.6L1697.5 452.6L1698.5 453.5L1699.5 454.5L1700.5 455.4L1701.5 456.4L1702.5 457.4L1703.5 458.4L1704.5 459.4L1705.5 460.5L1706.5 461.6L1707.5 462.7L1708.5 463.8L1709.5 464.9L1710.5 466L1711.5 467.2L1712.5 468.3L1713.5 469.4L1714.5 470.5L1715.5 471.6L1716.5 472.6L1717.5 473.7L1718.5 474.8L1719.5 475.9L1720.5 476.9L1721.5 478L1722.5 479L1723.5 480.1L1724.5 481L1725.5 482L1726.5 482.9L1727.5 483.8L1728.5 484.7L1729.5 485.5L1730.5 486.3L1731.5 487.1L1732.5 487.8L1733.5 488.6L1734.5 489.3L1735.5 490L1736.5 490.7L1737.5 491.3L1738.5 491.9L1739.5 492.5L1740.5 493L1741.5 493.5L1742.5 494L1743.5 494.4L1744.5 494.8L1745.5 495.3L1746.5 495.7L1747.5 496L1748.5 496.4L1749.5 496.7L1750.5 497.1L1751.5 497.3L1752.5 497.6L1753.5 497.8L1754.5 498L1755.5 498.2L1756.5 498.4L1757.5 498.6L1758.5 498.7L1759.5 498.9L1759.5 499.5 L1615.5 499.5Z"/></clipPath>
<path d="M1621.5 498.8L1622.5 498.6L1623.5 498.3L1624.5 498L1625.5 497.6L1626.5 497.1L1627.5 496.6L1628.5 496L1629.5 495.3L1630.5 494.5L1631.5 493.6L1632.5 492.6L1633.5 491.6L1634.5 490.5L1635.5 489.4L1636.5 488.3L1637.5 487.2L1638.5 486.2L1639.5 485.2L1640.5 484.3L1641.5 483.5L1642.5 482.9L1643.5 482.4L1644.5 482.1L1645.5 482L1646.5 482.1L1647.5 482.4L1648.5 482.9L1649.5 483.5L1650.5 484.3L1651.5 485.2L1652.5 486.2L1653.5 487.2L1654.5 488.3L1655.5 489.4L1656.5 490.5L1657.5 491.6L1658.5 492.6L1659.5 493.6L1660.5 494.5L1661.5 495.3L1662.5 496L1663.5 496.6L1664.5 497.1L1665.5 497.6L1666.5 498L1667.5 498.3L1668.5 498.6L1669.5 498.8L1669.5 499.5 L1621.5 499.5Z" fill="url(#stip)"/>
<path d="M1629.5 498.9L1630.5 498.8L1631.5 498.6L1632.5 498.5L1633.5 498.4L1634.5 498.2L1635.5 498L1636.5 497.8L1637.5 497.6L1638.5 497.3L1639.5 497L1640.5 496.7L1641.5 496.4L1642.5 495.9L1643.5 495.5L1644.5 495L1645.5 494.4L1646.5 493.8L1647.5 493.1L1648.5 492.4L1649.5 491.6L1650.5 490.7L1651.5 489.7L1652.5 488.6L1653.5 487.4L1654.5 486.1L1655.5 484.7L1656.5 483.2L1657.5 481.5L1658.5 479.8L1659.5 477.8L1660.5 475.8L1661.5 473.5L1662.5 471.2L1663.5 468.6L1664.5 465.9L1665.5 463L1666.5 459.9L1667.5 456.6L1668.5 453.1L1669.5 449.4L1670.5 445.5L1671.5 441.5L1672.5 437.2L1673.5 432.7L1674.5 428L1675.5 423.1L1676.5 418L1677.5 412.7L1678.5 407.2L1679.5 401.5L1680.5 395.7L1681.5 389.6L1682.5 383.5L1683.5 377.2L1684.5 370.7L1685.5 364.2L1686.5 357.5L1687.5 350.8L1688.5 344L1689.5 337.2L1690.5 330.3L1691.5 323.5L1692.5 316.6L1693.5 309.9L1694.5 303.2L1695.5 296.6L1696.5 290.2L1697.5 283.9L1698.5 277.7L1699.5 271.8L1700.5 266.1L1701.5 260.7L1702.5 255.6L1703.5 250.7L1704.5 246.2L1705.5 242L1706.5 238.2L1707.5 234.8L1708.5 231.8L1709.5 229.2L1710.5 227L1711.5 225.3L1712.5 224L1713.5 223.2L1714.5 222.8L1715.5 222.9L1716.5 223.5L1717.5 224.5L1718.5 225.9L1719.5 227.8L1720.5 230.2L1721.5 233L1722.5 236.1L1723.5 239.7L1724.5 243.7L1725.5 248L1726.5 252.6L1727.5 257.6L1728.5 262.8L1729.5 268.4L1730.5 274.2L1731.5 280.2L1732.5 286.4L1733.5 292.7L1734.5 299.2L1735.5 305.9L1736.5 312.6L1737.5 319.4L1738.5 326.2L1739.5 333L1740.5 339.9L1741.5 346.7L1742.5 353.5L1743.5 360.2L1744.5 366.8L1745.5 373.3L1746.5 379.7L1747.5 386L1748.5 392.1L1749.5 398L1750.5 403.8L1751.5 409.4L1752.5 414.8L1753.5 420L1754.5 425.1L1755.5 429.9L1756.5 434.5L1757.5 438.9L1758.5 443.1L1759.5 447.1L1760.5 450.9L1761.5 454.5L1762.5 457.9L1763.5 461.1L1764.5 464.1L1765.5 467L1766.5 469.6L1767.5 472.1L1768.5 474.5L1769.5 476.6L1770.5 478.6L1771.5 480.5L1772.5 482.2L1773.5 483.8L1774.5 485.3L1775.5 486.6L1776.5 487.9L1777.5 489L1778.5 490.1L1779.5 491L1780.5 491.9L1781.5 492.7L1782.5 493.4L1783.5 494.1L1784.5 494.7L1785.5 495.2L1786.5 495.7L1787.5 496.1L1788.5 496.5L1789.5 496.8L1790.5 497.2L1791.5 497.4L1792.5 497.7L1793.5 497.9L1794.5 498.1L1795.5 498.3L1796.5 498.4L1797.5 498.6L1798.5 498.7L1799.5 498.8L1800.5 498.9L1800.5 499.5 L1629.5 499.5Z" fill="url(#stip)"/>
<path d="M1615.5 498.8L1616.5 498.7L1617.5 498.5L1618.5 498.2L1619.5 497.9L1620.5 497.5L1621.5 497L1622.5 496.5L1623.5 496L1624.5 495.4L1625.5 494.8L1626.5 494.2L1627.5 493.5L1628.5 492.9L1629.5 492.1L1630.5 491.2L1631.5 490.1L1632.5 489L1633.5 487.8L1634.5 486.5L1635.5 485.2L1636.5 483.8L1637.5 482.4L1638.5 481L1639.5 479.6L1640.5 478.2L1641.5 476.8L1642.5 475.3L1643.5 473.7L1644.5 472.1L1645.5 470.4L1646.5 468.7L1647.5 467L1648.5 465.3L1649.5 463.6L1650.5 462L1651.5 460.4L1652.5 458.8L1653.5 457.4L1654.5 455.8L1655.5 454.3L1656.5 452.8L1657.5 451.3L1658.5 449.8L1659.5 448.4L1660.5 447.1L1661.5 445.9L1662.5 444.9L1663.5 443.9L1664.5 443L1665.5 442.1L1666.5 441.3L1667.5 440.5L1668.5 439.9L1669.5 439.5L1670.5 439.3L1671.5 439.3L1672.5 439.4L1673.5 439.4L1674.5 439.5L1675.5 439.7L1676.5 439.8L1677.5 440L1678.5 440.2L1679.5 440.4L1680.5 440.6L1681.5 440.8L1682.5 441.2L1683.5 441.7L1684.5 442.3L1685.5 443L1686.5 443.7L1687.5 444.4L1688.5 445.1L1689.5 445.9L1690.5 446.7L1691.5 447.4L1692.5 448.2L1693.5 449L1694.5 449.8L1695.5 450.7L1696.5 451.6L1697.5 452.6L1698.5 453.5L1699.5 454.5L1700.5 455.4L1701.5 456.4L1702.5 457.4L1703.5 458.4L1704.5 459.4L1705.5 460.5L1706.5 461.6L1707.5 462.7L1708.5 463.8L1709.5 464.9L1710.5 466L1711.5 467.2L1712.5 468.3L1713.5 469.4L1714.5 470.5L1715.5 471.6L1716.5 472.6L1717.5 473.7L1718.5 474.8L1719.5 475.9L1720.5 476.9L1721.5 478L1722.5 479L1723.5 480.1L1724.5 481L1725.5 482L1726.5 482.9L1727.5 483.8L1728.5 484.7L1729.5 485.5L1730.5 486.3L1731.5 487.1L1732.5 487.8L1733.5 488.6L1734.5 489.3L1735.5 490L1736.5 490.7L1737.5 491.3L1738.5 491.9L1739.5 492.5L1740.5 493L1741.5 493.5L1742.5 494L1743.5 494.4L1744.5 494.8L1745.5 495.3L1746.5 495.7L1747.5 496L1748.5 496.4L1749.5 496.7L1750.5 497.1L1751.5 497.3L1752.5 497.6L1753.5 497.8L1754.5 498L1755.5 498.2L1756.5 498.4L1757.5 498.6L1758.5 498.7L1759.5 498.9L1759.5 499.5 L1615.5 499.5Z" fill="url(#hat)"/>
<g clip-path="url(#csd)"><path d="M1621.5 498.8L1622.5 498.6L1623.5 498.3L1624.5 498L1625.5 497.6L1626.5 497.1L1627.5 496.6L1628.5 496L1629.5 495.3L1630.5 494.5L1631.5 493.6L1632.5 492.6L1633.5 491.6L1634.5 490.5L1635.5 489.4L1636.5 488.3L1637.5 487.2L1638.5 486.2L1639.5 485.2L1640.5 484.3L1641.5 483.5L1642.5 482.9L1643.5 482.4L1644.5 482.1L1645.5 482L1646.5 482.1L1647.5 482.4L1648.5 482.9L1649.5 483.5L1650.5 484.3L1651.5 485.2L1652.5 486.2L1653.5 487.2L1654.5 488.3L1655.5 489.4L1656.5 490.5L1657.5 491.6L1658.5 492.6L1659.5 493.6L1660.5 494.5L1661.5 495.3L1662.5 496L1663.5 496.6L1664.5 497.1L1665.5 497.6L1666.5 498L1667.5 498.3L1668.5 498.6L1669.5 498.8L1669.5 499.5 L1621.5 499.5Z" fill="url(#xhat)"/><path d="M1629.5 498.9L1630.5 498.8L1631.5 498.6L1632.5 498.5L1633.5 498.4L1634.5 498.2L1635.5 498L1636.5 497.8L1637.5 497.6L1638.5 497.3L1639.5 497L1640.5 496.7L1641.5 496.4L1642.5 495.9L1643.5 495.5L1644.5 495L1645.5 494.4L1646.5 493.8L1647.5 493.1L1648.5 492.4L1649.5 491.6L1650.5 490.7L1651.5 489.7L1652.5 488.6L1653.5 487.4L1654.5 486.1L1655.5 484.7L1656.5 483.2L1657.5 481.5L1658.5 479.8L1659.5 477.8L1660.5 475.8L1661.5 473.5L1662.5 471.2L1663.5 468.6L1664.5 465.9L1665.5 463L1666.5 459.9L1667.5 456.6L1668.5 453.1L1669.5 449.4L1670.5 445.5L1671.5 441.5L1672.5 437.2L1673.5 432.7L1674.5 428L1675.5 423.1L1676.5 418L1677.5 412.7L1678.5 407.2L1679.5 401.5L1680.5 395.7L1681.5 389.6L1682.5 383.5L1683.5 377.2L1684.5 370.7L1685.5 364.2L1686.5 357.5L1687.5 350.8L1688.5 344L1689.5 337.2L1690.5 330.3L1691.5 323.5L1692.5 316.6L1693.5 309.9L1694.5 303.2L1695.5 296.6L1696.5 290.2L1697.5 283.9L1698.5 277.7L1699.5 271.8L1700.5 266.1L1701.5 260.7L1702.5 255.6L1703.5 250.7L1704.5 246.2L1705.5 242L1706.5 238.2L1707.5 234.8L1708.5 231.8L1709.5 229.2L1710.5 227L1711.5 225.3L1712.5 224L1713.5 223.2L1714.5 222.8L1715.5 222.9L1716.5 223.5L1717.5 224.5L1718.5 225.9L1719.5 227.8L1720.5 230.2L1721.5 233L1722.5 236.1L1723.5 239.7L1724.5 243.7L1725.5 248L1726.5 252.6L1727.5 257.6L1728.5 262.8L1729.5 268.4L1730.5 274.2L1731.5 280.2L1732.5 286.4L1733.5 292.7L1734.5 299.2L1735.5 305.9L1736.5 312.6L1737.5 319.4L1738.5 326.2L1739.5 333L1740.5 339.9L1741.5 346.7L1742.5 353.5L1743.5 360.2L1744.5 366.8L1745.5 373.3L1746.5 379.7L1747.5 386L1748.5 392.1L1749.5 398L1750.5 403.8L1751.5 409.4L1752.5 414.8L1753.5 420L1754.5 425.1L1755.5 429.9L1756.5 434.5L1757.5 438.9L1758.5 443.1L1759.5 447.1L1760.5 450.9L1761.5 454.5L1762.5 457.9L1763.5 461.1L1764.5 464.1L1765.5 467L1766.5 469.6L1767.5 472.1L1768.5 474.5L1769.5 476.6L1770.5 478.6L1771.5 480.5L1772.5 482.2L1773.5 483.8L1774.5 485.3L1775.5 486.6L1776.5 487.9L1777.5 489L1778.5 490.1L1779.5 491L1780.5 491.9L1781.5 492.7L1782.5 493.4L1783.5 494.1L1784.5 494.7L1785.5 495.2L1786.5 495.7L1787.5 496.1L1788.5 496.5L1789.5 496.8L1790.5 497.2L1791.5 497.4L1792.5 497.7L1793.5 497.9L1794.5 498.1L1795.5 498.3L1796.5 498.4L1797.5 498.6L1798.5 498.7L1799.5 498.8L1800.5 498.9L1800.5 499.5 L1629.5 499.5Z" fill="url(#xhat)"/></g>
<path d="M1621.5 498.8L1622.5 498.6L1623.5 498.3L1624.5 498L1625.5 497.6L1626.5 497.1L1627.5 496.6L1628.5 496L1629.5 495.3L1630.5 494.5L1631.5 493.6L1632.5 492.6L1633.5 491.6L1634.5 490.5L1635.5 489.4L1636.5 488.3L1637.5 487.2L1638.5 486.2L1639.5 485.2L1640.5 484.3L1641.5 483.5L1642.5 482.9L1643.5 482.4L1644.5 482.1L1645.5 482L1646.5 482.1L1647.5 482.4L1648.5 482.9L1649.5 483.5L1650.5 484.3L1651.5 485.2L1652.5 486.2L1653.5 487.2L1654.5 488.3L1655.5 489.4L1656.5 490.5L1657.5 491.6L1658.5 492.6L1659.5 493.6L1660.5 494.5L1661.5 495.3L1662.5 496L1663.5 496.6L1664.5 497.1L1665.5 497.6L1666.5 498L1667.5 498.3L1668.5 498.6L1669.5 498.8" fill="none" stroke="#444" stroke-width="1.1"/>
<path d="M1629.5 498.9L1630.5 498.8L1631.5 498.6L1632.5 498.5L1633.5 498.4L1634.5 498.2L1635.5 498L1636.5 497.8L1637.5 497.6L1638.5 497.3L1639.5 497L1640.5 496.7L1641.5 496.4L1642.5 495.9L1643.5 495.5L1644.5 495L1645.5 494.4L1646.5 493.8L1647.5 493.1L1648.5 492.4L1649.5 491.6L1650.5 490.7L1651.5 489.7L1652.5 488.6L1653.5 487.4L1654.5 486.1L1655.5 484.7L1656.5 483.2L1657.5 481.5L1658.5 479.8L1659.5 477.8L1660.5 475.8L1661.5 473.5L1662.5 471.2L1663.5 468.6L1664.5 465.9L1665.5 463L1666.5 459.9L1667.5 456.6L1668.5 453.1L1669.5 449.4L1670.5 445.5L1671.5 441.5L1672.5 437.2L1673.5 432.7L1674.5 428L1675.5 423.1L1676.5 418L1677.5 412.7L1678.5 407.2L1679.5 401.5L1680.5 395.7L1681.5 389.6L1682.5 383.5L1683.5 377.2L1684.5 370.7L1685.5 364.2L1686.5 357.5L1687.5 350.8L1688.5 344L1689.5 337.2L1690.5 330.3L1691.5 323.5L1692.5 316.6L1693.5 309.9L1694.5 303.2L1695.5 296.6L1696.5 290.2L1697.5 283.9L1698.5 277.7L1699.5 271.8L1700.5 266.1L1701.5 260.7L1702.5 255.6L1703.5 250.7L1704.5 246.2L1705.5 242L1706.5 238.2L1707.5 234.8L1708.5 231.8L1709.5 229.2L1710.5 227L1711.5 225.3L1712.5 224L1713.5 223.2L1714.5 222.8L1715.5 222.9L1716.5 223.5L1717.5 224.5L1718.5 225.9L1719.5 227.8L1720.5 230.2L1721.5 233L1722.5 236.1L1723.5 239.7L1724.5 243.7L1725.5 248L1726.5 252.6L1727.5 257.6L1728.5 262.8L1729.5 268.4L1730.5 274.2L1731.5 280.2L1732.5 286.4L1733.5 292.7L1734.5 299.2L1735.5 305.9L1736.5 312.6L1737.5 319.4L1738.5 326.2L1739.5 333L1740.5 339.9L1741.5 346.7L1742.5 353.5L1743.5 360.2L1744.5 366.8L1745.5 373.3L1746.5 379.7L1747.5 386L1748.5 392.1L1749.5 398L1750.5 403.8L1751.5 409.4L1752.5 414.8L1753.5 420L1754.5 425.1L1755.5 429.9L1756.5 434.5L1757.5 438.9L1758.5 443.1L1759.5 447.1L1760.5 450.9L1761.5 454.5L1762.5 457.9L1763.5 461.1L1764.5 464.1L1765.5 467L1766.5 469.6L1767.5 472.1L1768.5 474.5L1769.5 476.6L1770.5 478.6L1771.5 480.5L1772.5 482.2L1773.5 483.8L1774.5 485.3L1775.5 486.6L1776.5 487.9L1777.5 489L1778.5 490.1L1779.5 491L1780.5 491.9L1781.5 492.7L1782.5 493.4L1783.5 494.1L1784.5 494.7L1785.5 495.2L1786.5 495.7L1787.5 496.1L1788.5 496.5L1789.5 496.8L1790.5 497.2L1791.5 497.4L1792.5 497.7L1793.5 497.9L1794.5 498.1L1795.5 498.3L1796.5 498.4L1797.5 498.6L1798.5 498.7L1799.5 498.8L1800.5 498.9" fill="none" stroke="#444" stroke-width="1.1"/>
<path d="M1615.5 498.8L1616.5 498.7L1617.5 498.5L1618.5 498.2L1619.5 497.9L1620.5 497.5L1621.5 497L1622.5 496.5L1623.5 496L1624.5 495.4L1625.5 494.8L1626.5 494.2L1627.5 493.5L1628.5 492.9L1629.5 492.1L1630.5 491.2L1631.5 490.1L1632.5 489L1633.5 487.8L1634.5 486.5L1635.5 485.2L1636.5 483.8L1637.5 482.4L1638.5 481L1639.5 479.6L1640.5 478.2L1641.5 476.8L1642.5 475.3L1643.5 473.7L1644.5 472.1L1645.5 470.4L1646.5 468.7L1647.5 467L1648.5 465.3L1649.5 463.6L1650.5 462L1651.5 460.4L1652.5 458.8L1653.5 457.4L1654.5 455.8L1655.5 454.3L1656.5 452.8L1657.5 451.3L1658.5 449.8L1659.5 448.4L1660.5 447.1L1661.5 445.9L1662.5 444.9L1663.5 443.9L1664.5 443L1665.5 442.1L1666.5 441.3L1667.5 440.5L1668.5 439.9L1669.5 439.5L1670.5 439.3L1671.5 439.3L1672.5 439.4L1673.5 439.4L1674.5 439.5L1675.5 439.7L1676.5 439.8L1677.5 440L1678.5 440.2L1679.5 440.4L1680.5 440.6L1681.5 440.8L1682.5 441.2L1683.5 441.7L1684.5 442.3L1685.5 443L1686.5 443.7L1687.5 444.4L1688.5 445.1L1689.5 445.9L1690.5 446.7L1691.5 447.4L1692.5 448.2L1693.5 449L1694.5 449.8L1695.5 450.7L1696.5 451.6L1697.5 452.6L1698.5 453.5L1699.5 454.5L1700.5 455.4L1701.5 456.4L1702.5 457.4L1703.5 458.4L1704.5 459.4L1705.5 460.5L1706.5 461.6L1707.5 462.7L1708.5 463.8L1709.5 464.9L1710.5 466L1711.5 467.2L1712.5 468.3L1713.5 469.4L1714.5 470.5L1715.5 471.6L1716.5 472.6L1717.5 473.7L1718.5 474.8L1719.5 475.9L1720.5 476.9L1721.5 478L1722.5 479L1723.5 480.1L1724.5 481L1725.5 482L1726.5 482.9L1727.5 483.8L1728.5 484.7L1729.5 485.5L1730.5 486.3L1731.5 487.1L1732.5 487.8L1733.5 488.6L1734.5 489.3L1735.5 490L1736.5 490.7L1737.5 491.3L1738.5 491.9L1739.5 492.5L1740.5 493L1741.5 493.5L1742.5 494L1743.5 494.4L1744.5 494.8L1745.5 495.3L1746.5 495.7L1747.5 496L1748.5 496.4L1749.5 496.7L1750.5 497.1L1751.5 497.3L1752.5 497.6L1753.5 497.8L1754.5 498L1755.5 498.2L1756.5 498.4L1757.5 498.6L1758.5 498.7L1759.5 498.9" fill="none" stroke="#444" stroke-width="1.1"/>
<path d="M1613.9 498.6L1614.9 498.4L1615.9 498.1L1616.9 497.8L1617.9 497.3L1618.9 496.8L1619.9 496.1L1620.9 495.4L1621.9 494.5L1622.9 493.6L1623.9 492.5L1624.9 491.4L1625.9 490.1L1626.9 488.8L1627.9 487.2L1628.9 485.4L1629.9 483.4L1630.9 481.2L1631.9 478.8L1632.9 476.3L1633.9 473.6L1634.9 471L1635.9 468.2L1636.9 465.5L1637.9 462.8L1638.9 460.2L1639.9 457.6L1640.9 455.1L1641.9 452.6L1642.9 450.2L1643.9 447.9L1644.9 445.6L1645.9 443.6L1646.9 441.6L1647.9 439.7L1648.9 437.9L1649.9 436.2L1650.9 434.6L1651.9 433L1652.9 431.3L1653.9 429.5L1654.9 427.5L1655.9 425.4L1656.9 423.2L1657.9 420.8L1658.9 418.3L1659.9 415.7L1660.9 413L1661.9 410.1L1662.9 407L1663.9 403.7L1664.9 400.1L1665.9 396.4L1666.9 392.6L1667.9 388.7L1668.9 384.8L1669.9 380.9L1670.9 376.7L1671.9 372.4L1672.9 367.8L1673.9 363.1L1674.9 358.2L1675.9 353.1L1676.9 347.8L1677.9 342.3L1678.9 336.7L1679.9 331L1680.9 325.2L1681.9 319.4L1682.9 313.5L1683.9 307.6L1684.9 301.7L1685.9 295.7L1686.9 289.6L1687.9 283.6L1688.9 277.5L1689.9 271.4L1690.9 265.3L1691.9 259.4L1692.9 253.5L1693.9 247.8L1694.9 242.3L1695.9 236.9L1696.9 231.7L1697.9 226.8L1699 222.1L1700 217.6L1701 213.5L1702.1 209.6L1703.1 206.1L1704.2 203L1705.3 200.3L1706.4 198L1707.6 196.1L1708.8 194.6L1710 193.6L1711.2 193L1712.5 192.8L1713.8 193.1L1715 193.8L1716.2 195L1717.4 196.6L1718.6 198.7L1719.7 201.2L1720.8 204.2L1721.9 207.6L1722.9 211.4L1724 215.7L1725 220.3L1726 225.2L1727.1 230.5L1728.1 236.1L1729.1 241.9L1730.1 248L1731.1 254.4L1732.1 260.9L1733.1 267.7L1734.1 274.7L1735.1 281.8L1736.1 289L1737.1 296.4L1738.1 303.8L1739.1 311.2L1740.1 318.6L1741.1 326L1742.1 333.4L1743.1 340.7L1744.1 347.9L1745.1 355.1L1746.1 362.1L1747.1 369.1L1748.1 375.9L1749.1 382.5L1750.1 389L1751.1 395.3L1752.1 401.3L1753.1 407.2L1754.1 412.9L1755.1 418.4L1756.1 423.6L1757.1 428.6L1758.1 433.4L1759.1 438L1760.1 442.3L1761.1 446.5L1762.1 450.4L1763.1 454.5L1764.1 457.9L1765.1 461.1L1766.1 464.1L1767.1 467L1768.1 469.6L1769.1 472.1L1770.1 474.5L1771.1 476.6L1772.1 478.6L1773.1 480.5L1774.1 482.2L1775.1 483.8L1776.1 485.3L1777.1 486.6L1778.1 487.9L1779.1 489L1780.1 490.1L1781.1 491L1782.1 491.9L1783.1 492.7L1784.1 493.4L1785.1 494.1L1786.1 494.7L1787.1 495.2L1788.1 495.7L1789.1 496.1L1790.1 496.5L1791.1 496.8L1792.1 497.2L1793.1 497.4L1794.1 497.7L1795.1 497.9L1796.1 498.1L1797.1 498.3L1798.1 498.4L1799.1 498.6L1800.1 498.7" fill="none" stroke="#505050" stroke-width="1.15" stroke-dasharray="5.5 3"/>
<path d="M1684.5 283.8h2.1v2h-2.1zM1687 283.8h2.1v2h-2.1zM1736 290.3h2.1v2h-2.1zM1681 303.3h2.1v2h-2.1zM1739.8 309.9h2.1v2h-2.1zM1679.5 342.3h2.1v2h-2.1zM1684.5 342.3h2.1v2h-2.1zM1665.9 374.8h2.1v2h-2.1zM1659.5 400.8h2.2v2.1h-2.2zM1667 400.9h2.1v2h-2.1zM1669.5 400.9h2.1v2h-2.1zM1744.8 400.9h2.2v2.1h-2.2zM1666 413.9h2.1v2h-2.1zM1745.9 413.9h2.2v2.1h-2.2zM1646.9 420.3h2.2v2.1h-2.2zM1644.4 426.8h2.2v2.1h-2.2zM1743.5 427h2.1v2h-2.1zM1615.6 439.8h2.2v2.1h-2.2zM1636.9 439.8h2.2v2.1h-2.2zM1646.9 439.8h2.2v2.1h-2.2zM1752.4 440h2.1v2h-2.1zM1624.4 446.3h2.2v2.1h-2.2zM1630.7 452.9h2.1v2h-2.1zM1772.4 453h2.2v2.1h-2.2zM1617 459.3h2.1v2h-2.1zM1624.5 459.3h2.1v2h-2.1zM1621.9 465.8h2.1v2h-2.1zM1634.4 465.8h2.2v2.1h-2.2zM1852.7 466.1h2.2v2.1h-2.2zM1767.4 472.5h2.1v2h-2.1zM1776.2 472.5h2.1v2h-2.1zM1805 472.6h2.1v2h-2.1zM1832.6 472.6h2.2v2.1h-2.2zM1612 478.8h2.1v2h-2.1zM1614.5 478.9h2.1v2h-2.1zM1751 479h2.1v2h-2.1zM1817.5 479.1h2.1v2h-2.1zM1607.9 485.3h2.2v2.1h-2.2zM1793.7 485.5h2.2v2.1h-2.2zM1806.2 485.6h2.1v2h-2.1zM1831.4 485.6h2.1v2h-2.1zM1839 485.6h2.1v2h-2.1zM1844 485.6h2.1v2h-2.1zM1861.5 485.7h2.1v2h-2.1zM1875.2 485.7h2.1v2h-2.1zM1877.8 485.7h2.1v2h-2.1zM1935.9 485.7h2.2v2.1h-2.2zM1765 492h2.1v2h-2.1zM1772.4 492h2.2v2.1h-2.2zM1793.8 492.1h2.1v2h-2.1zM1796.2 492.1h2.1v2h-2.1zM1798.8 492.1h2.1v2h-2.1zM1812.5 492.1h2.1v2h-2.1zM1820 492.1h2.1v2h-2.1zM1827.5 492.1h2.1v2h-2.1zM1855.2 492.2h2.1v2h-2.1zM1857.8 492.2h2.1v2h-2.1zM1891.5 492.2h2.1v2h-2.1zM1918 492.2h2.1v2h-2.1zM1721.7 107.5h2.2v2.1h-2.2zM1707.6 133.6h2.2v2.1h-2.2zM1712.2 140.6h2.2v2.1h-2.2zM1709.7 159.9h2.2v2.1h-2.2zM1714.7 159.9h2.2v2.1h-2.2zM1717.9 172.8h2.2v2.1h-2.2zM1688.9 192.6h2.2v2.1h-2.2zM1722.7 192.6h2.2v2.1h-2.2zM1707.1 205.9h2.2v2.1h-2.2zM1723.5 205.9h2.2v2.1h-2.2zM1731.5 218.9h2.2v2.1h-2.2zM1725.9 225.4h2.2v2.1h-2.2zM1693.3 244.8h2.2v2.1h-2.2zM1733.5 270.6h2.2v2.1h-2.2zM1728.5 276.9h2.2v2.1h-2.2zM1681.9 283.6h2.2v2.1h-2.2z" fill="#858585"/>
<path d="M1682 283.8h2.1v2h-2.1zM1734.7 283.8h2.2v2.1h-2.2zM1738.5 290.3h2.1v2h-2.1zM1741 290.3h2.1v2h-2.1zM1676 303.3h2.1v2h-2.1zM1678.5 303.3h2.1v2h-2.1zM1738.5 303.4h2.1v2h-2.1zM1737.2 309.9h2.1v2h-2.1zM1677 342.3h2.1v2h-2.1zM1682 342.3h2.1v2h-2.1zM1744.9 368.4h2.1v2h-2.1zM1747.4 368.4h2.1v2h-2.1zM1668.4 374.8h2.1v2h-2.1zM1670.9 374.8h2.1v2h-2.1zM1673.4 374.8h2.1v2h-2.1zM1735.9 374.9h2.2v2.1h-2.2zM1667 381.3h2.1v2h-2.1zM1669.5 381.3h2.1v2h-2.1zM1672 381.3h2.1v2h-2.1zM1740.9 381.4h2.2v2.1h-2.2zM1665.8 387.8h2.2v2.1h-2.2zM1671.9 387.8h2.2v2.1h-2.2zM1683.3 387.8h2.2v2.1h-2.2zM1749.8 394.4h2.2v2.1h-2.2zM1745.9 407.4h2.2v2.1h-2.2zM1654.5 413.8h2.2v2.1h-2.2zM1679.5 413.8h2.2v2.1h-2.2zM1658.2 420.3h2.2v2.1h-2.2zM1663.2 420.3h2.2v2.1h-2.2zM1627.4 426.8h2.2v2.1h-2.2zM1634.9 426.8h2.2v2.1h-2.2zM1650.7 426.8h2.2v2.1h-2.2zM1659.5 426.8h2.2v2.1h-2.2zM1746 427h2.1v2h-2.1zM1626.9 433.3h2.2v2.1h-2.2zM1637.9 433.3h2.2v2.1h-2.2zM1651.9 433.3h2.2v2.1h-2.2zM1657 439.9h2.1v2h-2.1zM1659.5 439.9h2.1v2h-2.1zM1662 439.9h2.1v2h-2.1zM1749.9 440h2.1v2h-2.1zM1604.3 446.3h2.2v2.1h-2.2zM1763.6 446.5h2.2v2.1h-2.2zM1774.9 446.5h2.2v2.1h-2.2zM1608 452.8h2.1v2h-2.1zM1610.5 452.8h2.1v2h-2.1zM1613 452.8h2.1v2h-2.1zM1615.5 452.8h2.1v2h-2.1zM1628.2 452.8h2.1v2h-2.1zM1633.2 452.9h2.1v2h-2.1zM1635.7 452.9h2.1v2h-2.1zM1638.2 452.9h2.1v2h-2.1zM1644.4 452.8h2.2v2.1h-2.2zM1756.2 453h2.1v2h-2.1zM1609.3 459.3h2.2v2.1h-2.2zM1619.5 459.3h2.1v2h-2.1zM1622 459.3h2.1v2h-2.1zM1629.5 459.4h2.1v2h-2.1zM1632 459.4h2.1v2h-2.1zM1639.5 459.4h2.1v2h-2.1zM1644.5 459.4h2.1v2h-2.1zM1756.1 459.5h2.2v2.1h-2.2zM1610.7 465.8h2.1v2h-2.1zM1613.2 465.8h2.1v2h-2.1zM1619.4 465.8h2.1v2h-2.1zM1624.4 465.9h2.1v2h-2.1zM1776.2 466h2.1v2h-2.1zM1778.7 466h2.1v2h-2.1zM1604.4 472.3h2.1v2h-2.1zM1606.9 472.3h2.1v2h-2.1zM1611.9 472.3h2.1v2h-2.1zM1614.4 472.3h2.1v2h-2.1zM1757.4 472.5h2.1v2h-2.1zM1759.9 472.5h2.1v2h-2.1zM1762.4 472.5h2.1v2h-2.1zM1764.9 472.5h2.1v2h-2.1zM1769.9 472.5h2.1v2h-2.1zM1773.7 472.5h2.1v2h-2.1zM1791.2 472.5h2.2v2.1h-2.2zM1846.4 472.6h2.2v2.1h-2.2zM1602.9 478.8h2.2v2.1h-2.2zM1617 478.9h2.1v2h-2.1zM1624.4 478.8h2.2v2.1h-2.2zM1753.5 479h2.1v2h-2.1zM1761 479h2.1v2h-2.1zM1766 479h2.1v2h-2.1zM1769.9 479h2.2v2.1h-2.2zM1803.7 479h2.2v2.1h-2.2zM1820 479.1h2.1v2h-2.1zM1841.4 479.1h2.2v2.1h-2.2zM1855 479.1h2.1v2h-2.1zM1857.5 479.1h2.1v2h-2.1zM1867.7 479.1h2.2v2.1h-2.2zM1757.4 485.5h2.1v2h-2.1zM1759.9 485.5h2.1v2h-2.1zM1771.2 485.5h2.1v2h-2.1zM1782.5 485.6h2.1v2h-2.1zM1785 485.6h2.1v2h-2.1zM1808.8 485.6h2.1v2h-2.1zM1811.2 485.6h2.1v2h-2.1zM1821.4 485.6h2.1v2h-2.1zM1823.9 485.6h2.1v2h-2.1zM1826.4 485.6h2.1v2h-2.1zM1828.9 485.6h2.1v2h-2.1zM1836.5 485.6h2.1v2h-2.1zM1841.5 485.6h2.1v2h-2.1zM1851.4 485.6h2.2v2.1h-2.2zM1866.5 485.7h2.1v2h-2.1zM1880.2 485.7h2.1v2h-2.1zM1882.8 485.7h2.1v2h-2.1zM1891.5 485.6h2.2v2.1h-2.2zM1910.4 485.7h2.2v2.1h-2.2zM1788.7 492h2.2v2.1h-2.2zM1803.8 492.1h2.1v2h-2.1zM1815 492.1h2.1v2h-2.1zM1817.5 492.1h2.1v2h-2.1zM1822.5 492.1h2.1v2h-2.1zM1825 492.1h2.1v2h-2.1zM1830 492.1h2.1v2h-2.1zM1842.7 492.1h2.1v2h-2.1zM1847.7 492.1h2.1v2h-2.1zM1860.2 492.2h2.1v2h-2.1zM1869 492.2h2.1v2h-2.1zM1871.5 492.2h2.1v2h-2.1zM1874 492.2h2.1v2h-2.1zM1881.5 492.1h2.2v2.1h-2.2zM1894 492.2h2.1v2h-2.1zM1899 492.2h2.1v2h-2.1zM1920.5 492.2h2.1v2h-2.1zM1923 492.2h2.1v2h-2.1zM1925.5 492.2h2.1v2h-2.1zM1931.8 492.2h2.1v2h-2.1zM1934.2 492.2h2.1v2h-2.1zM1720.9 94.2h2.2v2.1h-2.2zM1715.2 101.4h2.2v2.1h-2.2zM1711.7 107.5h2.2v2.1h-2.2zM1724.2 114.4h2.2v2.1h-2.2zM1715.9 121.2h2.2v2.1h-2.2zM1719.2 121.2h2.2v2.1h-2.2zM1717.2 133.6h2.2v2.1h-2.2zM1720.9 140.6h2.2v2.1h-2.2zM1728.9 140.6h2.2v2.1h-2.2zM1710.9 146.9h2.2v2.1h-2.2zM1723.5 146.9h2.2v2.1h-2.2zM1727.2 146.9h2.2v2.1h-2.2zM1712.2 153.8h2.2v2.1h-2.2zM1730.2 153.8h2.2v2.1h-2.2zM1698.4 159.9h2.2v2.1h-2.2zM1705.9 159.9h2.2v2.1h-2.2zM1700.9 166.5h2.2v2.1h-2.2zM1704.6 166.5h2.2v2.1h-2.2zM1729.7 166.5h2.2v2.1h-2.2zM1699.6 179.5h2.2v2.1h-2.2zM1713.4 179.5h2.2v2.1h-2.2zM1720.9 218.9h2.2v2.1h-2.2zM1728.5 250.9h2.2v2.1h-2.2zM1683.9 264.3h2.2v2.1h-2.2zM1686.6 270.6h2.2v2.1h-2.2zM1685.9 283.6h2.2v2.1h-2.2zM1689.6 283.6h2.2v2.1h-2.2zM1733.5 283.6h2.2v2.1h-2.2z" fill="#555"/>
<path d="M1660.3 433h3v2.8h-3zM1790.8 459.1h3v2.8h-3zM1833.5 478.7h3v2.8h-3zM1800.8 485.2h3v2.8h-3z" fill="#262626"/>
<path d="M1560.8 83L1974.9 83.4L1975.8 499.8L1562.6 499.3Z" fill="none" stroke="#7e7e7e" stroke-width="1.25"/>
<path d="M1860.1 500.1L1977.8 500.2" stroke="#3f3f3f" stroke-width="2.2"/>
<path d="M1748.5 499.8L1860.1 500" stroke="#5a5a5a" stroke-width="1.6" stroke-dasharray="3 2"/>
<path d="M1612.6 80.8v4.6M1614.2 496.8v2.6M1664.3 80.8v4.6M1665.9 496.8v2.6M1716.1 80.9v4.6M1717.5 496.9v2.6M1767.8 80.9v4.6M1769.2 496.9v2.6M1819.6 81v4.6M1820.8 497v2.6M1871.4 81v4.6M1872.5 497.1v2.6M1923.1 81.1v4.6M1924.2 497.1v2.6M1974.9 81.1v4.6M1975.8 497.2v2.6M1561.2 447.3h4.4M1973 447.8h5.4M1560.9 395.2h4.4M1972.9 395.7h5.4M1560.7 343.2h4.4M1972.8 343.6h5.4M1560.5 291.1h4.4M1972.6 291.6h5.4M1560.3 239.1h4.4M1972.5 239.5h5.4M1560 187.1h4.4M1972.4 187.5h5.4M1559.8 135h4.4M1972.3 135.4h5.4M1559.6 83h4.4M1972.2 83.4h5.4" stroke="#7e7e7e" stroke-width="1.1" fill="none"/>
<text x="1556.1" y="510.8" font-size="13" class="sa" fill="#505050" textLength="10" lengthAdjust="spacingAndGlyphs" stroke="#505050" stroke-width="0.1" stroke-linejoin="round">0</text>
<text x="1602.5" y="510.9" font-size="13" class="sa" fill="#505050" textLength="20.5" lengthAdjust="spacingAndGlyphs" stroke="#505050" stroke-width="0.1" stroke-linejoin="round">64</text>
<text x="1648.9" y="510.9" font-size="13" class="sa" fill="#505050" textLength="31" lengthAdjust="spacingAndGlyphs" stroke="#505050" stroke-width="0.1" stroke-linejoin="round">128</text>
<text x="1700.5" y="511" font-size="13" class="sa" fill="#505050" textLength="31" lengthAdjust="spacingAndGlyphs" stroke="#505050" stroke-width="0.1" stroke-linejoin="round">192</text>
<text x="1752.2" y="511.1" font-size="13" class="sa" fill="#505050" textLength="31" lengthAdjust="spacingAndGlyphs" stroke="#505050" stroke-width="0.1" stroke-linejoin="round">256</text>
<text x="1803.8" y="511.1" font-size="13" class="sa" fill="#505050" textLength="31" lengthAdjust="spacingAndGlyphs" stroke="#505050" stroke-width="0.1" stroke-linejoin="round">320</text>
<text x="1855.5" y="511.2" font-size="13" class="sa" fill="#505050" textLength="31" lengthAdjust="spacingAndGlyphs" stroke="#505050" stroke-width="0.1" stroke-linejoin="round">384</text>
<text x="1907.2" y="511.2" font-size="13" class="sa" fill="#505050" textLength="31" lengthAdjust="spacingAndGlyphs" stroke="#505050" stroke-width="0.1" stroke-linejoin="round">448</text>
<text x="1948.8" y="511.3" font-size="13" class="sa" fill="#505050" textLength="28.5" lengthAdjust="spacingAndGlyphs" stroke="#505050" stroke-width="0.1" stroke-linejoin="round">512</text>
<text x="1550.7" y="499" font-size="11.3" class="sa" fill="#505050" textLength="9.9" lengthAdjust="spacingAndGlyphs" stroke="#505050" stroke-width="0.1" stroke-linejoin="round">0</text>
<text x="1550.5" y="447" font-size="11.3" class="sa" fill="#505050" textLength="9.9" lengthAdjust="spacingAndGlyphs" stroke="#505050" stroke-width="0.1" stroke-linejoin="round">8</text>
<text x="1539.5" y="394.9" font-size="11.3" class="sa" fill="#505050" textLength="20.6" lengthAdjust="spacingAndGlyphs" stroke="#505050" stroke-width="0.1" stroke-linejoin="round">16</text>
<text x="1539.3" y="342.9" font-size="11.3" class="sa" fill="#505050" textLength="20.6" lengthAdjust="spacingAndGlyphs" stroke="#505050" stroke-width="0.1" stroke-linejoin="round">24</text>
<text x="1539.1" y="290.8" font-size="11.3" class="sa" fill="#505050" textLength="20.6" lengthAdjust="spacingAndGlyphs" stroke="#505050" stroke-width="0.1" stroke-linejoin="round">32</text>
<text x="1538.9" y="238.8" font-size="11.3" class="sa" fill="#505050" textLength="20.6" lengthAdjust="spacingAndGlyphs" stroke="#505050" stroke-width="0.1" stroke-linejoin="round">40</text>
<text x="1538.7" y="186.8" font-size="11.3" class="sa" fill="#505050" textLength="20.6" lengthAdjust="spacingAndGlyphs" stroke="#505050" stroke-width="0.1" stroke-linejoin="round">48</text>
<text x="1538.4" y="134.7" font-size="11.3" class="sa" fill="#505050" textLength="20.6" lengthAdjust="spacingAndGlyphs" stroke="#505050" stroke-width="0.1" stroke-linejoin="round">56</text>
<text x="1538.2" y="92" font-size="11.3" class="sa" fill="#505050" textLength="20.6" lengthAdjust="spacingAndGlyphs" stroke="#505050" stroke-width="0.1" stroke-linejoin="round">64</text>
<text x="1523.8" y="400.5" font-size="17.5" class="n" fill="#505050" transform="rotate(-90 1523.8 400.5)" stroke="#505050" stroke-width="0.12" stroke-linejoin="round"><tspan x="1523.8" textLength="60.5" lengthAdjust="spacingAndGlyphs">Cell</tspan> <tspan x="1606.1" textLength="117" lengthAdjust="spacingAndGlyphs">Number</tspan></text>
<text x="1674.1" y="535.6" font-size="22" class="n" fill="#505050" stroke="#505050" stroke-width="0.12" stroke-linejoin="round"><tspan x="1674.1" textLength="67.4" lengthAdjust="spacingAndGlyphs">DNA</tspan> <tspan x="1760.1" textLength="105.7" lengthAdjust="spacingAndGlyphs">Content</tspan></text>
</g>
<text x="1594.5" y="126.5" font-size="47" font-style="italic" textLength="24" lengthAdjust="spacingAndGlyphs" stroke="#000" stroke-width="0.6" stroke-linejoin="round">d</text>
<text x="1759.3" y="183.1" font-size="26.8" textLength="152.4" lengthAdjust="spacingAndGlyphs" stroke="#000" stroke-width="0.12" stroke-linejoin="round">G0/G1: 2.6%</text>
<text x="1766" y="228.3" font-size="26.8" textLength="159" lengthAdjust="spacingAndGlyphs" stroke="#000" stroke-width="0.12" stroke-linejoin="round">G2<tspan dx="2.6">/M: 77.7%</tspan></text>
<text x="1804.4" y="273.5" font-size="26.8" textLength="101.7" lengthAdjust="spacingAndGlyphs" stroke="#000" stroke-width="0.12" stroke-linejoin="round">S: 19.7%</text>
<text x="689" y="612.8" font-size="46.5" textLength="30" lengthAdjust="spacingAndGlyphs" stroke="#000" stroke-width="0.8" stroke-linejoin="round">B</text>
<rect x="824.4" y="606.3" width="4" height="496.4" fill="#000"/>
<rect x="816.7" y="1098.7" width="547" height="4" fill="#000"/>
<rect x="816.7" y="1000.3" width="9" height="3.9" fill="#000"/>
<rect x="816.7" y="901.8" width="9" height="3.9" fill="#000"/>
<rect x="816.7" y="803.3" width="9" height="3.9" fill="#000"/>
<rect x="816.7" y="704.8" width="9" height="3.9" fill="#000"/>
<rect x="816.7" y="606.3" width="9" height="3.9" fill="#000"/>
<rect x="916.6" y="1100" width="3.6" height="9" fill="#000"/>
<rect x="1086.2" y="1100" width="3.6" height="9" fill="#000"/>
<rect x="1268.7" y="1100" width="3.6" height="9" fill="#000"/>
<rect x="1361" y="1100" width="2.7" height="9" fill="#000"/>
<text x="778.2" y="1112.9" font-size="35" textLength="17" lengthAdjust="spacingAndGlyphs" stroke="#000" stroke-width="0.8" stroke-linejoin="round">0</text>
<text x="761" y="1014.4" font-size="35" textLength="34.2" lengthAdjust="spacingAndGlyphs" stroke="#000" stroke-width="0.8" stroke-linejoin="round">20</text>
<text x="761" y="915.9" font-size="35" textLength="34.2" lengthAdjust="spacingAndGlyphs" stroke="#000" stroke-width="0.8" stroke-linejoin="round">40</text>
<text x="761" y="817.5" font-size="35" textLength="34.2" lengthAdjust="spacingAndGlyphs" stroke="#000" stroke-width="0.8" stroke-linejoin="round">60</text>
<text x="761" y="719" font-size="35" textLength="34.2" lengthAdjust="spacingAndGlyphs" stroke="#000" stroke-width="0.8" stroke-linejoin="round">80</text>
<text x="743.6" y="620.5" font-size="35" textLength="51.6" lengthAdjust="spacingAndGlyphs" stroke="#000" stroke-width="0.8" stroke-linejoin="round">100</text>
<text x="714.6" y="1025" font-size="36.5" textLength="346" lengthAdjust="spacingAndGlyphs" transform="rotate(-90 714.6 1025)" stroke="#000" stroke-width="0.8" stroke-linejoin="round">Phase population (%)</text>
<rect x="852.7" y="610.8" width="17.4" height="18.2" fill="#fff" stroke="#000" stroke-width="2.5"/>
<rect x="850.6" y="654.4" width="18.4" height="18.6" fill="#d2d2d2" stroke="#000" stroke-width="2.5"/>
<rect x="852.5" y="656.3" width="14.6" height="14.8" fill="none" stroke="#fff" stroke-width="1.1"/>
<rect x="852.3" y="693.8" width="19" height="19.8" fill="#686868" stroke="#8c8c8c" stroke-width="1.2"/>
<rect x="851.9" y="736.9" width="20.3" height="21.2" fill="#000"/>
<text x="880.6" y="633.6" font-size="37" textLength="107" lengthAdjust="spacingAndGlyphs" stroke="#000" stroke-width="0.8" stroke-linejoin="round">Vehicle</text>
<text x="888" y="677" font-size="37" stroke="#000" stroke-width="0.8" stroke-linejoin="round"><tspan x="888" textLength="17" lengthAdjust="spacingAndGlyphs">5</tspan> <tspan x="923.2" textLength="52" lengthAdjust="spacingAndGlyphs">μM</tspan></text>
<text x="880.8" y="718" font-size="37" stroke="#000" stroke-width="0.8" stroke-linejoin="round"><tspan x="880.8" textLength="35.5" lengthAdjust="spacingAndGlyphs">10</tspan> <tspan x="924.8" textLength="51.5" lengthAdjust="spacingAndGlyphs">μM</tspan></text>
<text x="879.6" y="761.5" font-size="37" stroke="#000" stroke-width="0.8" stroke-linejoin="round"><tspan x="879.6" textLength="36.5" lengthAdjust="spacingAndGlyphs">20</tspan> <tspan x="924.8" textLength="51.5" lengthAdjust="spacingAndGlyphs">μM</tspan></text>
<text x="1062.8" y="665.3" font-size="37" textLength="74" lengthAdjust="spacingAndGlyphs" stroke="#000" stroke-width="0.6" stroke-linejoin="round">LL/2</text>
<rect x="851.6" y="896.7" width="32.6" height="204.3" fill="#fff" stroke="#000" stroke-width="2.5"/>
<rect x="885.3" y="887.8" width="33.5" height="213.2" fill="#d2d2d2" stroke="#000" stroke-width="2.5"/>
<rect x="887" y="889.5" width="30.1" height="210.2" fill="none" stroke="#fff" stroke-width="0.9"/>
<rect x="917.3" y="1050.2" width="35" height="50.2" fill="#666" stroke="#8a8a8a" stroke-width="1.4"/>
<rect x="951.6" y="1086.9" width="34.9" height="13.8" fill="#000"/>
<path d="M868 889.4V896.9" stroke="#000" stroke-width="3.4"/>
<path d="M865.6 888.1h4.8q1 0 1 1v0.9l-1.8 2.1h-3.2l-1.8 -2.1v-0.9q0 -1 1 -1z" fill="#000"/>
<path d="M902.1 864.8V888" stroke="#000" stroke-width="3.4"/>
<path d="M899.8 863.5h4.8q1 0 1 1v0.9l-1.8 2.1h-3.2l-1.8 -2.1v-0.9q0 -1 1 -1z" fill="#000"/>
<path d="M934.5 1047.8V1051" stroke="#000" stroke-width="3.4"/>
<path d="M932.1 1046.5h4.8q1 0 1 1v0.9l-1.8 2.1h-3.2l-1.8 -2.1v-0.9q0 -1 1 -1z" fill="#000"/>
<path d="M968.6 1084.6V1088.4" stroke="#000" stroke-width="3.4"/>
<path d="M966.2 1083.3h4.8q1 0 1 1v0.9l-1.8 2.1h-3.2l-1.8 -2.1v-0.9q0 -1 1 -1z" fill="#000"/>
<text x="864.2" y="1149.3" font-size="37.5" textLength="103" lengthAdjust="spacingAndGlyphs" stroke="#000" stroke-width="0.8" stroke-linejoin="round">G0/G1</text>
<rect x="1021.1" y="883.4" width="33.5" height="217.6" fill="#fff" stroke="#000" stroke-width="2.5"/>
<rect x="1054.9" y="938.5" width="33.5" height="162.5" fill="#d2d2d2" stroke="#000" stroke-width="2.5"/>
<rect x="1056.6" y="940.2" width="30.1" height="159.5" fill="none" stroke="#fff" stroke-width="0.9"/>
<rect x="1087.7" y="945.3" width="34.6" height="155.1" fill="#666" stroke="#8a8a8a" stroke-width="1.4"/>
<rect x="1121.1" y="1002.7" width="35.5" height="98" fill="#000"/>
<path d="M1037.9 859V883.6" stroke="#000" stroke-width="3.4"/>
<path d="M1035.5 857.7h4.8q1 0 1 1v0.9l-1.8 2.1h-3.2l-1.8 -2.1v-0.9q0 -1 1 -1z" fill="#000"/>
<path d="M1071.8 916.2V938.7" stroke="#000" stroke-width="3.4"/>
<path d="M1069.3 914.9h4.8q1 0 1 1v0.9l-1.8 2.1h-3.2l-1.8 -2.1v-0.9q0 -1 1 -1z" fill="#000"/>
<path d="M1104.7 931.5V946.1" stroke="#000" stroke-width="3.4"/>
<path d="M1102.3 930.2h4.8q1 0 1 1v0.9l-1.8 2.1h-3.2l-1.8 -2.1v-0.9q0 -1 1 -1z" fill="#000"/>
<path d="M1138.4 999.2V1004.2" stroke="#000" stroke-width="3.4"/>
<path d="M1136 997.9h4.8q1 0 1 1v0.9l-1.8 2.1h-3.2l-1.8 -2.1v-0.9q0 -1 1 -1z" fill="#000"/>
<text x="1079.2" y="1149.3" font-size="37.5" textLength="18.2" lengthAdjust="spacingAndGlyphs" stroke="#000" stroke-width="0.8" stroke-linejoin="round">S</text>
<rect x="1204.2" y="1030.1" width="32.6" height="70.9" fill="#fff" stroke="#000" stroke-width="2.5"/>
<rect x="1237.9" y="985.3" width="32.7" height="115.7" fill="#d2d2d2" stroke="#000" stroke-width="2.5"/>
<rect x="1239.6" y="987" width="29.3" height="112.7" fill="none" stroke="#fff" stroke-width="0.9"/>
<rect x="1270.7" y="812.8" width="32.8" height="287.6" fill="#666" stroke="#8a8a8a" stroke-width="1.4"/>
<rect x="1303.6" y="717.1" width="36" height="383.6" fill="#000"/>
<path d="M1220.6 1014.8V1030.3" stroke="#000" stroke-width="3.4"/>
<path d="M1218.2 1013.5h4.8q1 0 1 1v0.9l-1.8 2.1h-3.2l-1.8 -2.1v-0.9q0 -1 1 -1z" fill="#000"/>
<path d="M1254.3 970.7V985.5" stroke="#000" stroke-width="3.4"/>
<path d="M1251.9 969.4h4.8q1 0 1 1v0.9l-1.8 2.1h-3.2l-1.8 -2.1v-0.9q0 -1 1 -1z" fill="#000"/>
<path d="M1286.8 799.4V813.6" stroke="#000" stroke-width="3.4"/>
<path d="M1284.4 798.1h4.8q1 0 1 1v0.9l-1.8 2.1h-3.2l-1.8 -2.1v-0.9q0 -1 1 -1z" fill="#000"/>
<path d="M1321.1 680V718.6" stroke="#000" stroke-width="3.4"/>
<path d="M1318.7 678.7h4.8q1 0 1 1v0.9l-1.8 2.1h-3.2l-1.8 -2.1v-0.9q0 -1 1 -1z" fill="#000"/>
<text x="1225.6" y="1149.3" font-size="37.5" stroke="#000" stroke-width="0.8" stroke-linejoin="round"><tspan x="1225.6" textLength="42.4" lengthAdjust="spacingAndGlyphs">G2</tspan><tspan x="1272.2" textLength="48" lengthAdjust="spacingAndGlyphs" dy="3.1">/M</tspan></text>
<rect x="816.7" y="1098.7" width="547" height="4" fill="#000"/>
<text x="1282.4" y="801.8" font-size="37" class="sa" fill="#000" textLength="14.4" lengthAdjust="spacingAndGlyphs" stroke="#000" stroke-width="0.45" stroke-linejoin="round">*</text>
<text x="1306" y="683" font-size="37" class="sa" fill="#000" textLength="33" lengthAdjust="spacingAndGlyphs" stroke="#000" stroke-width="0.45" stroke-linejoin="round">**</text>
</svg>
</body></html>
